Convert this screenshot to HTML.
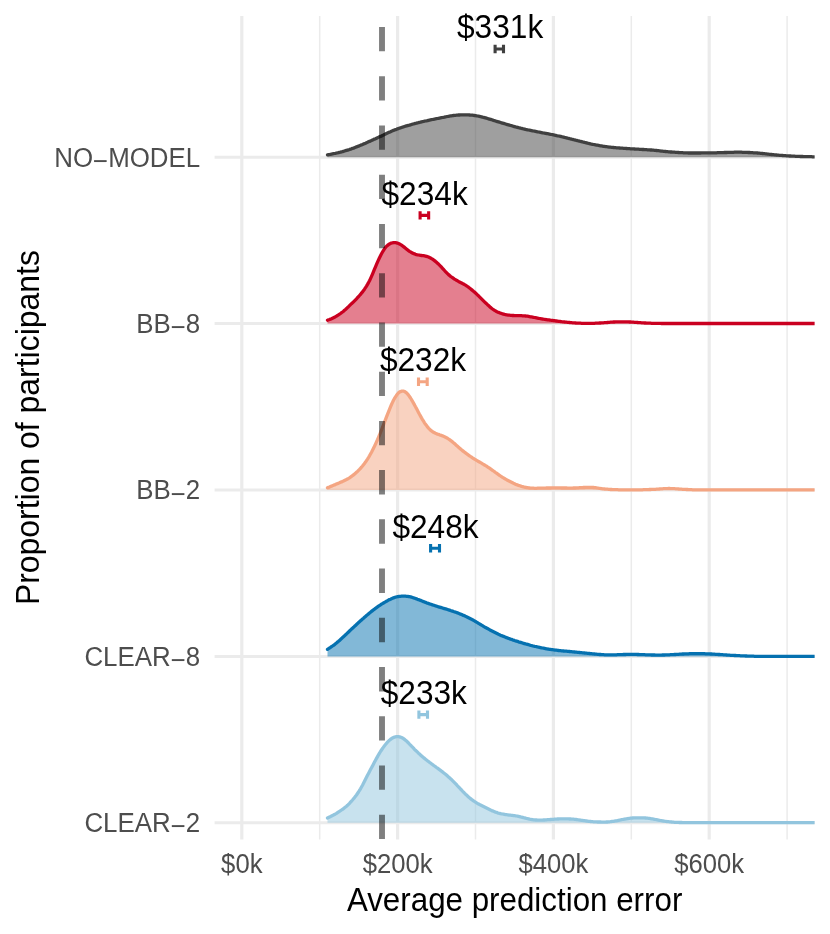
<!DOCTYPE html>
<html><head><meta charset="utf-8"><title>chart</title>
<style>
html,body{margin:0;padding:0;background:#fff;}
svg{display:block;}
text{font-family:"Liberation Sans",sans-serif;}
svg{will-change:transform;}
</style></head><body>
<svg width="830" height="934" viewBox="0 0 830 934">
<rect width="830" height="934" fill="#ffffff"/>

<g stroke="#ebebeb" fill="none">
<line x1="319.7" x2="319.7" y1="16.0" y2="839.5" stroke-width="1.5"/>
<line x1="475.5" x2="475.5" y1="16.0" y2="839.5" stroke-width="1.5"/>
<line x1="631.3" x2="631.3" y1="16.0" y2="839.5" stroke-width="1.5"/>
<line x1="787.1" x2="787.1" y1="16.0" y2="839.5" stroke-width="1.5"/>
<line x1="241.8" x2="241.8" y1="16.0" y2="839.5" stroke-width="3.2"/>
<line x1="397.6" x2="397.6" y1="16.0" y2="839.5" stroke-width="3.2"/>
<line x1="553.4" x2="553.4" y1="16.0" y2="839.5" stroke-width="3.2"/>
<line x1="709.2" x2="709.2" y1="16.0" y2="839.5" stroke-width="3.2"/>
<line x1="214.6" x2="814.6" y1="157.2" y2="157.2" stroke-width="3"/>
<line x1="214.6" x2="814.6" y1="323.6" y2="323.6" stroke-width="3"/>
<line x1="214.6" x2="814.6" y1="490.0" y2="490.0" stroke-width="3"/>
<line x1="214.6" x2="814.6" y1="656.4" y2="656.4" stroke-width="3"/>
<line x1="214.6" x2="814.6" y1="822.8" y2="822.8" stroke-width="3"/>
</g>
<clipPath id="pc"><rect x="214.6" y="16.0" width="600.0" height="823.5"/></clipPath>
<g clip-path="url(#pc)">
<path d="M327.5,154.9 L328.5,154.7 L329.5,154.5 L330.5,154.3 L331.5,154.1 L332.5,153.9 L333.5,153.7 L334.5,153.5 L335.5,153.3 L336.5,153.0 L337.5,152.8 L338.5,152.6 L339.5,152.3 L340.5,152.1 L341.5,151.8 L342.5,151.6 L343.5,151.3 L344.5,151.0 L345.5,150.7 L346.5,150.4 L347.5,150.1 L348.5,149.8 L349.5,149.5 L350.5,149.1 L351.5,148.8 L352.5,148.4 L353.5,148.1 L354.5,147.7 L355.5,147.3 L356.5,146.9 L357.5,146.5 L358.5,146.1 L359.5,145.7 L360.5,145.3 L361.5,144.9 L362.5,144.5 L363.5,144.0 L364.5,143.6 L365.5,143.2 L366.5,142.7 L367.5,142.3 L368.5,141.8 L369.5,141.4 L370.5,140.9 L371.5,140.5 L372.5,140.0 L373.5,139.6 L374.5,139.1 L375.5,138.7 L376.5,138.2 L377.5,137.7 L378.5,137.3 L379.5,136.8 L380.5,136.4 L381.5,135.9 L382.5,135.4 L383.5,135.0 L384.5,134.5 L385.5,134.0 L386.5,133.5 L387.5,133.0 L388.5,132.5 L389.5,132.1 L390.5,131.7 L391.5,131.2 L392.5,130.8 L393.5,130.4 L394.5,130.0 L395.5,129.6 L396.5,129.3 L397.5,128.9 L398.5,128.5 L399.5,128.2 L400.5,127.8 L401.5,127.5 L402.5,127.2 L403.5,126.8 L404.5,126.5 L405.5,126.2 L406.5,125.9 L407.5,125.6 L408.5,125.3 L409.5,125.1 L410.5,124.8 L411.5,124.5 L412.5,124.2 L413.5,124.0 L414.5,123.7 L415.5,123.4 L416.5,123.2 L417.5,122.9 L418.5,122.7 L419.5,122.4 L420.5,122.2 L421.5,121.9 L422.5,121.7 L423.5,121.5 L424.5,121.2 L425.5,121.0 L426.5,120.8 L427.5,120.6 L428.5,120.3 L429.5,120.1 L430.5,119.9 L431.5,119.7 L432.5,119.5 L433.5,119.3 L434.5,119.1 L435.5,118.9 L436.5,118.7 L437.5,118.5 L438.5,118.3 L439.5,118.1 L440.5,117.9 L441.5,117.7 L442.5,117.5 L443.5,117.3 L444.5,117.1 L445.5,116.8 L446.5,116.7 L447.5,116.5 L448.5,116.3 L449.5,116.1 L450.5,115.9 L451.5,115.8 L452.5,115.6 L453.5,115.5 L454.5,115.4 L455.5,115.3 L456.5,115.2 L457.5,115.1 L458.5,115.0 L459.5,115.0 L460.5,114.9 L461.5,114.9 L462.5,114.9 L463.5,114.8 L464.5,114.8 L465.5,114.8 L466.5,114.8 L467.5,114.9 L468.5,114.9 L469.5,115.0 L470.5,115.1 L471.5,115.1 L472.5,115.2 L473.5,115.4 L474.5,115.5 L475.5,115.6 L476.5,115.8 L477.5,116.0 L478.5,116.2 L479.5,116.4 L480.5,116.6 L481.5,116.8 L482.5,117.1 L483.5,117.3 L484.5,117.6 L485.5,117.9 L486.5,118.2 L487.5,118.5 L488.5,118.8 L489.5,119.1 L490.5,119.4 L491.5,119.7 L492.5,120.0 L493.5,120.4 L494.5,120.7 L495.5,121.0 L496.5,121.3 L497.5,121.6 L498.5,121.9 L499.5,122.2 L500.5,122.5 L501.5,122.8 L502.5,123.1 L503.5,123.4 L504.5,123.7 L505.5,124.0 L506.5,124.3 L507.5,124.6 L508.5,124.9 L509.5,125.2 L510.5,125.5 L511.5,125.7 L512.5,126.0 L513.5,126.3 L514.5,126.6 L515.5,126.9 L516.5,127.1 L517.5,127.4 L518.5,127.7 L519.5,127.9 L520.5,128.2 L521.5,128.4 L522.5,128.7 L523.5,128.9 L524.5,129.1 L525.5,129.4 L526.5,129.6 L527.5,129.8 L528.5,130.0 L529.5,130.2 L530.5,130.4 L531.5,130.6 L532.5,130.8 L533.5,131.0 L534.5,131.2 L535.5,131.4 L536.5,131.6 L537.5,131.8 L538.5,132.0 L539.5,132.2 L540.5,132.4 L541.5,132.6 L542.5,132.8 L543.5,133.0 L544.5,133.2 L545.5,133.4 L546.5,133.5 L547.5,133.7 L548.5,133.9 L549.5,134.1 L550.5,134.3 L551.5,134.5 L552.5,134.7 L553.5,134.9 L554.5,135.1 L555.5,135.3 L556.5,135.6 L557.5,135.8 L558.5,136.0 L559.5,136.2 L560.5,136.4 L561.5,136.7 L562.5,136.9 L563.5,137.1 L564.5,137.4 L565.5,137.6 L566.5,137.8 L567.5,138.1 L568.5,138.3 L569.5,138.6 L570.5,138.8 L571.5,139.1 L572.5,139.3 L573.5,139.6 L574.5,139.8 L575.5,140.1 L576.5,140.3 L577.5,140.6 L578.5,140.8 L579.5,141.1 L580.5,141.3 L581.5,141.6 L582.5,141.9 L583.5,142.1 L584.5,142.4 L585.5,142.6 L586.5,142.9 L587.5,143.2 L588.5,143.4 L589.5,143.6 L590.5,143.9 L591.5,144.1 L592.5,144.3 L593.5,144.5 L594.5,144.7 L595.5,144.9 L596.5,145.1 L597.5,145.2 L598.5,145.4 L599.5,145.6 L600.5,145.8 L601.5,145.9 L602.5,146.1 L603.5,146.3 L604.5,146.4 L605.5,146.6 L606.5,146.7 L607.5,146.8 L608.5,147.0 L609.5,147.1 L610.5,147.2 L611.5,147.3 L612.5,147.4 L613.5,147.5 L614.5,147.6 L615.5,147.7 L616.5,147.8 L617.5,147.9 L618.5,147.9 L619.5,148.0 L620.5,148.1 L621.5,148.2 L622.5,148.2 L623.5,148.3 L624.5,148.4 L625.5,148.4 L626.5,148.5 L627.5,148.6 L628.5,148.6 L629.5,148.7 L630.5,148.8 L631.5,148.8 L632.5,148.9 L633.5,148.9 L634.5,149.0 L635.5,149.1 L636.5,149.1 L637.5,149.2 L638.5,149.2 L639.5,149.3 L640.5,149.3 L641.5,149.4 L642.5,149.5 L643.5,149.5 L644.5,149.6 L645.5,149.6 L646.5,149.7 L647.5,149.8 L648.5,149.8 L649.5,149.9 L650.5,150.0 L651.5,150.0 L652.5,150.1 L653.5,150.2 L654.5,150.3 L655.5,150.4 L656.5,150.5 L657.5,150.6 L658.5,150.7 L659.5,150.8 L660.5,151.0 L661.5,151.1 L662.5,151.2 L663.5,151.3 L664.5,151.4 L665.5,151.5 L666.5,151.6 L667.5,151.7 L668.5,151.8 L669.5,151.9 L670.5,152.0 L671.5,152.0 L672.5,152.1 L673.5,152.2 L674.5,152.2 L675.5,152.3 L676.5,152.4 L677.5,152.4 L678.5,152.5 L679.5,152.6 L680.5,152.6 L681.5,152.7 L682.5,152.7 L683.5,152.8 L684.5,152.8 L685.5,152.9 L686.5,152.9 L687.5,152.9 L688.5,153.0 L689.5,153.0 L690.5,153.0 L691.5,153.0 L692.5,153.0 L693.5,153.0 L694.5,153.0 L695.5,153.0 L696.5,153.0 L697.5,153.0 L698.5,153.0 L699.5,153.0 L700.5,153.0 L701.5,152.9 L702.5,152.9 L703.5,152.9 L704.5,152.9 L705.5,152.9 L706.5,152.9 L707.5,152.9 L708.5,152.9 L709.5,152.9 L710.5,152.9 L711.5,152.8 L712.5,152.8 L713.5,152.8 L714.5,152.8 L715.5,152.8 L716.5,152.8 L717.5,152.7 L718.5,152.7 L719.5,152.7 L720.5,152.7 L721.5,152.6 L722.5,152.6 L723.5,152.6 L724.5,152.5 L725.5,152.5 L726.5,152.5 L727.5,152.4 L728.5,152.4 L729.5,152.4 L730.5,152.3 L731.5,152.3 L732.5,152.3 L733.5,152.3 L734.5,152.2 L735.5,152.2 L736.5,152.2 L737.5,152.2 L738.5,152.2 L739.5,152.2 L740.5,152.2 L741.5,152.2 L742.5,152.3 L743.5,152.3 L744.5,152.3 L745.5,152.4 L746.5,152.4 L747.5,152.4 L748.5,152.5 L749.5,152.5 L750.5,152.6 L751.5,152.6 L752.5,152.7 L753.5,152.8 L754.5,152.8 L755.5,152.9 L756.5,152.9 L757.5,153.0 L758.5,153.1 L759.5,153.2 L760.5,153.3 L761.5,153.4 L762.5,153.5 L763.5,153.6 L764.5,153.7 L765.5,153.8 L766.5,153.9 L767.5,154.1 L768.5,154.2 L769.5,154.3 L770.5,154.4 L771.5,154.5 L772.5,154.6 L773.5,154.7 L774.5,154.8 L775.5,154.9 L776.5,155.0 L777.5,155.1 L778.5,155.2 L779.5,155.3 L780.5,155.4 L781.5,155.4 L782.5,155.5 L783.5,155.6 L784.5,155.7 L785.5,155.7 L786.5,155.8 L787.5,155.9 L788.5,155.9 L789.5,156.0 L790.5,156.0 L791.5,156.1 L792.5,156.2 L793.5,156.2 L794.5,156.2 L795.5,156.3 L796.5,156.3 L797.5,156.4 L798.5,156.4 L799.5,156.4 L800.5,156.5 L801.5,156.5 L802.5,156.5 L803.5,156.6 L804.5,156.6 L805.5,156.6 L806.5,156.6 L807.5,156.7 L808.5,156.7 L809.5,156.7 L810.5,156.7 L811.5,156.7 L812.5,156.8 L813.5,156.8 L814.5,156.8 L815.5,156.8 L816.5,156.8 L817.5,156.8 L818.0,156.8 L818.0,157.2 L327.5,157.2 Z" fill="#404040" fill-opacity="0.5" stroke="none"/>
<path d="M327.5,154.9 L328.5,154.7 L329.5,154.5 L330.5,154.3 L331.5,154.1 L332.5,153.9 L333.5,153.7 L334.5,153.5 L335.5,153.3 L336.5,153.0 L337.5,152.8 L338.5,152.6 L339.5,152.3 L340.5,152.1 L341.5,151.8 L342.5,151.6 L343.5,151.3 L344.5,151.0 L345.5,150.7 L346.5,150.4 L347.5,150.1 L348.5,149.8 L349.5,149.5 L350.5,149.1 L351.5,148.8 L352.5,148.4 L353.5,148.1 L354.5,147.7 L355.5,147.3 L356.5,146.9 L357.5,146.5 L358.5,146.1 L359.5,145.7 L360.5,145.3 L361.5,144.9 L362.5,144.5 L363.5,144.0 L364.5,143.6 L365.5,143.2 L366.5,142.7 L367.5,142.3 L368.5,141.8 L369.5,141.4 L370.5,140.9 L371.5,140.5 L372.5,140.0 L373.5,139.6 L374.5,139.1 L375.5,138.7 L376.5,138.2 L377.5,137.7 L378.5,137.3 L379.5,136.8 L380.5,136.4 L381.5,135.9 L382.5,135.4 L383.5,135.0 L384.5,134.5 L385.5,134.0 L386.5,133.5 L387.5,133.0 L388.5,132.5 L389.5,132.1 L390.5,131.7 L391.5,131.2 L392.5,130.8 L393.5,130.4 L394.5,130.0 L395.5,129.6 L396.5,129.3 L397.5,128.9 L398.5,128.5 L399.5,128.2 L400.5,127.8 L401.5,127.5 L402.5,127.2 L403.5,126.8 L404.5,126.5 L405.5,126.2 L406.5,125.9 L407.5,125.6 L408.5,125.3 L409.5,125.1 L410.5,124.8 L411.5,124.5 L412.5,124.2 L413.5,124.0 L414.5,123.7 L415.5,123.4 L416.5,123.2 L417.5,122.9 L418.5,122.7 L419.5,122.4 L420.5,122.2 L421.5,121.9 L422.5,121.7 L423.5,121.5 L424.5,121.2 L425.5,121.0 L426.5,120.8 L427.5,120.6 L428.5,120.3 L429.5,120.1 L430.5,119.9 L431.5,119.7 L432.5,119.5 L433.5,119.3 L434.5,119.1 L435.5,118.9 L436.5,118.7 L437.5,118.5 L438.5,118.3 L439.5,118.1 L440.5,117.9 L441.5,117.7 L442.5,117.5 L443.5,117.3 L444.5,117.1 L445.5,116.8 L446.5,116.7 L447.5,116.5 L448.5,116.3 L449.5,116.1 L450.5,115.9 L451.5,115.8 L452.5,115.6 L453.5,115.5 L454.5,115.4 L455.5,115.3 L456.5,115.2 L457.5,115.1 L458.5,115.0 L459.5,115.0 L460.5,114.9 L461.5,114.9 L462.5,114.9 L463.5,114.8 L464.5,114.8 L465.5,114.8 L466.5,114.8 L467.5,114.9 L468.5,114.9 L469.5,115.0 L470.5,115.1 L471.5,115.1 L472.5,115.2 L473.5,115.4 L474.5,115.5 L475.5,115.6 L476.5,115.8 L477.5,116.0 L478.5,116.2 L479.5,116.4 L480.5,116.6 L481.5,116.8 L482.5,117.1 L483.5,117.3 L484.5,117.6 L485.5,117.9 L486.5,118.2 L487.5,118.5 L488.5,118.8 L489.5,119.1 L490.5,119.4 L491.5,119.7 L492.5,120.0 L493.5,120.4 L494.5,120.7 L495.5,121.0 L496.5,121.3 L497.5,121.6 L498.5,121.9 L499.5,122.2 L500.5,122.5 L501.5,122.8 L502.5,123.1 L503.5,123.4 L504.5,123.7 L505.5,124.0 L506.5,124.3 L507.5,124.6 L508.5,124.9 L509.5,125.2 L510.5,125.5 L511.5,125.7 L512.5,126.0 L513.5,126.3 L514.5,126.6 L515.5,126.9 L516.5,127.1 L517.5,127.4 L518.5,127.7 L519.5,127.9 L520.5,128.2 L521.5,128.4 L522.5,128.7 L523.5,128.9 L524.5,129.1 L525.5,129.4 L526.5,129.6 L527.5,129.8 L528.5,130.0 L529.5,130.2 L530.5,130.4 L531.5,130.6 L532.5,130.8 L533.5,131.0 L534.5,131.2 L535.5,131.4 L536.5,131.6 L537.5,131.8 L538.5,132.0 L539.5,132.2 L540.5,132.4 L541.5,132.6 L542.5,132.8 L543.5,133.0 L544.5,133.2 L545.5,133.4 L546.5,133.5 L547.5,133.7 L548.5,133.9 L549.5,134.1 L550.5,134.3 L551.5,134.5 L552.5,134.7 L553.5,134.9 L554.5,135.1 L555.5,135.3 L556.5,135.6 L557.5,135.8 L558.5,136.0 L559.5,136.2 L560.5,136.4 L561.5,136.7 L562.5,136.9 L563.5,137.1 L564.5,137.4 L565.5,137.6 L566.5,137.8 L567.5,138.1 L568.5,138.3 L569.5,138.6 L570.5,138.8 L571.5,139.1 L572.5,139.3 L573.5,139.6 L574.5,139.8 L575.5,140.1 L576.5,140.3 L577.5,140.6 L578.5,140.8 L579.5,141.1 L580.5,141.3 L581.5,141.6 L582.5,141.9 L583.5,142.1 L584.5,142.4 L585.5,142.6 L586.5,142.9 L587.5,143.2 L588.5,143.4 L589.5,143.6 L590.5,143.9 L591.5,144.1 L592.5,144.3 L593.5,144.5 L594.5,144.7 L595.5,144.9 L596.5,145.1 L597.5,145.2 L598.5,145.4 L599.5,145.6 L600.5,145.8 L601.5,145.9 L602.5,146.1 L603.5,146.3 L604.5,146.4 L605.5,146.6 L606.5,146.7 L607.5,146.8 L608.5,147.0 L609.5,147.1 L610.5,147.2 L611.5,147.3 L612.5,147.4 L613.5,147.5 L614.5,147.6 L615.5,147.7 L616.5,147.8 L617.5,147.9 L618.5,147.9 L619.5,148.0 L620.5,148.1 L621.5,148.2 L622.5,148.2 L623.5,148.3 L624.5,148.4 L625.5,148.4 L626.5,148.5 L627.5,148.6 L628.5,148.6 L629.5,148.7 L630.5,148.8 L631.5,148.8 L632.5,148.9 L633.5,148.9 L634.5,149.0 L635.5,149.1 L636.5,149.1 L637.5,149.2 L638.5,149.2 L639.5,149.3 L640.5,149.3 L641.5,149.4 L642.5,149.5 L643.5,149.5 L644.5,149.6 L645.5,149.6 L646.5,149.7 L647.5,149.8 L648.5,149.8 L649.5,149.9 L650.5,150.0 L651.5,150.0 L652.5,150.1 L653.5,150.2 L654.5,150.3 L655.5,150.4 L656.5,150.5 L657.5,150.6 L658.5,150.7 L659.5,150.8 L660.5,151.0 L661.5,151.1 L662.5,151.2 L663.5,151.3 L664.5,151.4 L665.5,151.5 L666.5,151.6 L667.5,151.7 L668.5,151.8 L669.5,151.9 L670.5,152.0 L671.5,152.0 L672.5,152.1 L673.5,152.2 L674.5,152.2 L675.5,152.3 L676.5,152.4 L677.5,152.4 L678.5,152.5 L679.5,152.6 L680.5,152.6 L681.5,152.7 L682.5,152.7 L683.5,152.8 L684.5,152.8 L685.5,152.9 L686.5,152.9 L687.5,152.9 L688.5,153.0 L689.5,153.0 L690.5,153.0 L691.5,153.0 L692.5,153.0 L693.5,153.0 L694.5,153.0 L695.5,153.0 L696.5,153.0 L697.5,153.0 L698.5,153.0 L699.5,153.0 L700.5,153.0 L701.5,152.9 L702.5,152.9 L703.5,152.9 L704.5,152.9 L705.5,152.9 L706.5,152.9 L707.5,152.9 L708.5,152.9 L709.5,152.9 L710.5,152.9 L711.5,152.8 L712.5,152.8 L713.5,152.8 L714.5,152.8 L715.5,152.8 L716.5,152.8 L717.5,152.7 L718.5,152.7 L719.5,152.7 L720.5,152.7 L721.5,152.6 L722.5,152.6 L723.5,152.6 L724.5,152.5 L725.5,152.5 L726.5,152.5 L727.5,152.4 L728.5,152.4 L729.5,152.4 L730.5,152.3 L731.5,152.3 L732.5,152.3 L733.5,152.3 L734.5,152.2 L735.5,152.2 L736.5,152.2 L737.5,152.2 L738.5,152.2 L739.5,152.2 L740.5,152.2 L741.5,152.2 L742.5,152.3 L743.5,152.3 L744.5,152.3 L745.5,152.4 L746.5,152.4 L747.5,152.4 L748.5,152.5 L749.5,152.5 L750.5,152.6 L751.5,152.6 L752.5,152.7 L753.5,152.8 L754.5,152.8 L755.5,152.9 L756.5,152.9 L757.5,153.0 L758.5,153.1 L759.5,153.2 L760.5,153.3 L761.5,153.4 L762.5,153.5 L763.5,153.6 L764.5,153.7 L765.5,153.8 L766.5,153.9 L767.5,154.1 L768.5,154.2 L769.5,154.3 L770.5,154.4 L771.5,154.5 L772.5,154.6 L773.5,154.7 L774.5,154.8 L775.5,154.9 L776.5,155.0 L777.5,155.1 L778.5,155.2 L779.5,155.3 L780.5,155.4 L781.5,155.4 L782.5,155.5 L783.5,155.6 L784.5,155.7 L785.5,155.7 L786.5,155.8 L787.5,155.9 L788.5,155.9 L789.5,156.0 L790.5,156.0 L791.5,156.1 L792.5,156.2 L793.5,156.2 L794.5,156.2 L795.5,156.3 L796.5,156.3 L797.5,156.4 L798.5,156.4 L799.5,156.4 L800.5,156.5 L801.5,156.5 L802.5,156.5 L803.5,156.6 L804.5,156.6 L805.5,156.6 L806.5,156.6 L807.5,156.7 L808.5,156.7 L809.5,156.7 L810.5,156.7 L811.5,156.7 L812.5,156.8 L813.5,156.8 L814.5,156.8 L815.5,156.8 L816.5,156.8 L817.5,156.8 L818.0,156.8" fill="none" stroke="#404040" stroke-width="3.3" stroke-linejoin="round" stroke-linecap="round"/>
<path d="M327.5,320.2 L328.5,319.8 L329.5,319.5 L330.5,319.1 L331.5,318.7 L332.5,318.2 L333.5,317.7 L334.5,317.2 L335.5,316.7 L336.5,316.1 L337.5,315.5 L338.5,314.8 L339.5,314.2 L340.5,313.5 L341.5,312.7 L342.5,312.0 L343.5,311.2 L344.5,310.3 L345.5,309.5 L346.5,308.6 L347.5,307.6 L348.5,306.7 L349.5,305.7 L350.5,304.7 L351.5,303.7 L352.5,302.8 L353.5,301.8 L354.5,300.8 L355.5,299.8 L356.5,298.8 L357.5,297.7 L358.5,296.6 L359.5,295.5 L360.5,294.4 L361.5,293.1 L362.5,291.9 L363.5,290.6 L364.5,289.2 L365.5,287.7 L366.5,286.1 L367.5,284.4 L368.5,282.6 L369.5,280.7 L370.5,278.6 L371.5,276.4 L372.5,274.1 L373.5,271.7 L374.5,269.2 L375.5,266.8 L376.5,264.4 L377.5,262.1 L378.5,259.9 L379.5,257.7 L380.5,255.7 L381.5,253.8 L382.5,252.0 L383.5,250.3 L384.5,248.8 L385.5,247.5 L386.5,246.3 L387.5,245.4 L388.5,244.6 L389.5,243.9 L390.5,243.4 L391.5,243.0 L392.5,242.8 L393.5,242.6 L394.5,242.6 L395.5,242.7 L396.5,242.9 L397.5,243.2 L398.5,243.5 L399.5,244.0 L400.5,244.5 L401.5,245.2 L402.5,245.9 L403.5,246.6 L404.5,247.4 L405.5,248.2 L406.5,249.1 L407.5,249.8 L408.5,250.6 L409.5,251.3 L410.5,251.9 L411.5,252.5 L412.5,253.1 L413.5,253.5 L414.5,253.9 L415.5,254.3 L416.5,254.6 L417.5,254.8 L418.5,255.0 L419.5,255.2 L420.5,255.4 L421.5,255.5 L422.5,255.6 L423.5,255.7 L424.5,255.9 L425.5,256.1 L426.5,256.4 L427.5,256.7 L428.5,257.0 L429.5,257.5 L430.5,258.0 L431.5,258.6 L432.5,259.2 L433.5,259.9 L434.5,260.6 L435.5,261.4 L436.5,262.3 L437.5,263.2 L438.5,264.1 L439.5,265.1 L440.5,266.1 L441.5,267.2 L442.5,268.3 L443.5,269.4 L444.5,270.5 L445.5,271.6 L446.5,272.6 L447.5,273.6 L448.5,274.6 L449.5,275.4 L450.5,276.3 L451.5,277.0 L452.5,277.7 L453.5,278.4 L454.5,279.1 L455.5,279.7 L456.5,280.3 L457.5,280.8 L458.5,281.4 L459.5,281.9 L460.5,282.4 L461.5,282.9 L462.5,283.5 L463.5,284.0 L464.5,284.6 L465.5,285.2 L466.5,285.8 L467.5,286.5 L468.5,287.2 L469.5,288.0 L470.5,288.8 L471.5,289.6 L472.5,290.4 L473.5,291.3 L474.5,292.1 L475.5,293.0 L476.5,293.9 L477.5,294.9 L478.5,295.8 L479.5,296.8 L480.5,297.8 L481.5,298.8 L482.5,299.8 L483.5,300.8 L484.5,301.8 L485.5,302.8 L486.5,303.7 L487.5,304.7 L488.5,305.6 L489.5,306.5 L490.5,307.4 L491.5,308.2 L492.5,309.0 L493.5,309.7 L494.5,310.3 L495.5,310.9 L496.5,311.5 L497.5,312.0 L498.5,312.4 L499.5,312.8 L500.5,313.2 L501.5,313.5 L502.5,313.8 L503.5,314.1 L504.5,314.4 L505.5,314.6 L506.5,314.8 L507.5,315.0 L508.5,315.1 L509.5,315.2 L510.5,315.3 L511.5,315.4 L512.5,315.5 L513.5,315.5 L514.5,315.6 L515.5,315.6 L516.5,315.6 L517.5,315.7 L518.5,315.7 L519.5,315.7 L520.5,315.7 L521.5,315.7 L522.5,315.8 L523.5,315.8 L524.5,315.9 L525.5,316.0 L526.5,316.1 L527.5,316.2 L528.5,316.4 L529.5,316.6 L530.5,316.8 L531.5,316.9 L532.5,317.1 L533.5,317.3 L534.5,317.5 L535.5,317.7 L536.5,317.9 L537.5,318.1 L538.5,318.3 L539.5,318.5 L540.5,318.7 L541.5,318.9 L542.5,319.0 L543.5,319.2 L544.5,319.3 L545.5,319.5 L546.5,319.6 L547.5,319.8 L548.5,319.9 L549.5,320.0 L550.5,320.2 L551.5,320.3 L552.5,320.4 L553.5,320.6 L554.5,320.7 L555.5,320.9 L556.5,321.0 L557.5,321.1 L558.5,321.3 L559.5,321.4 L560.5,321.5 L561.5,321.7 L562.5,321.8 L563.5,321.9 L564.5,322.0 L565.5,322.1 L566.5,322.2 L567.5,322.3 L568.5,322.4 L569.5,322.5 L570.5,322.6 L571.5,322.7 L572.5,322.8 L573.5,322.9 L574.5,322.9 L575.5,323.0 L576.5,323.1 L577.5,323.1 L578.5,323.2 L579.5,323.2 L580.5,323.2 L581.5,323.3 L582.5,323.3 L583.5,323.3 L584.5,323.4 L585.5,323.4 L586.5,323.4 L587.5,323.4 L588.5,323.4 L589.5,323.4 L590.5,323.4 L591.5,323.3 L592.5,323.3 L593.5,323.3 L594.5,323.3 L595.5,323.2 L596.5,323.2 L597.5,323.1 L598.5,323.1 L599.5,323.0 L600.5,323.0 L601.5,322.9 L602.5,322.8 L603.5,322.8 L604.5,322.7 L605.5,322.6 L606.5,322.6 L607.5,322.5 L608.5,322.4 L609.5,322.3 L610.5,322.2 L611.5,322.2 L612.5,322.1 L613.5,322.0 L614.5,322.0 L615.5,321.9 L616.5,321.9 L617.5,321.9 L618.5,321.9 L619.5,321.8 L620.5,321.8 L621.5,321.8 L622.5,321.8 L623.5,321.8 L624.5,321.8 L625.5,321.8 L626.5,321.8 L627.5,321.9 L628.5,321.9 L629.5,322.0 L630.5,322.0 L631.5,322.1 L632.5,322.1 L633.5,322.2 L634.5,322.3 L635.5,322.3 L636.5,322.4 L637.5,322.5 L638.5,322.6 L639.5,322.6 L640.5,322.7 L641.5,322.8 L642.5,322.9 L643.5,322.9 L644.5,323.0 L645.5,323.0 L646.5,323.1 L647.5,323.1 L648.5,323.2 L649.5,323.2 L650.5,323.2 L651.5,323.3 L652.5,323.3 L653.5,323.3 L654.5,323.4 L655.5,323.4 L656.5,323.4 L657.5,323.4 L658.5,323.4 L659.5,323.4 L660.5,323.4 L661.5,323.5 L662.5,323.5 L663.5,323.5 L664.5,323.5 L665.5,323.5 L666.5,323.5 L667.5,323.5 L668.5,323.5 L669.5,323.5 L670.5,323.5 L671.5,323.5 L672.5,323.5 L673.5,323.5 L674.5,323.5 L675.5,323.5 L676.5,323.5 L677.5,323.5 L678.5,323.5 L679.5,323.5 L680.5,323.5 L681.5,323.5 L682.5,323.5 L683.5,323.5 L684.5,323.5 L685.5,323.5 L686.5,323.5 L687.5,323.5 L688.5,323.5 L689.5,323.5 L690.5,323.5 L691.5,323.5 L692.5,323.5 L693.5,323.5 L694.5,323.5 L695.5,323.5 L696.5,323.5 L697.5,323.5 L698.5,323.5 L699.5,323.5 L700.5,323.5 L701.5,323.5 L702.5,323.5 L703.5,323.5 L704.5,323.5 L705.5,323.5 L706.5,323.5 L707.5,323.5 L708.5,323.5 L709.5,323.5 L710.5,323.5 L711.5,323.5 L712.5,323.5 L713.5,323.5 L714.5,323.5 L715.5,323.5 L716.5,323.5 L717.5,323.5 L718.5,323.5 L719.5,323.5 L720.5,323.5 L721.5,323.5 L722.5,323.5 L723.5,323.5 L724.5,323.5 L725.5,323.5 L726.5,323.5 L727.5,323.5 L728.5,323.5 L729.5,323.5 L730.5,323.5 L731.5,323.5 L732.5,323.5 L733.5,323.5 L734.5,323.5 L735.5,323.5 L736.5,323.5 L737.5,323.5 L738.5,323.5 L739.5,323.5 L740.5,323.5 L741.5,323.5 L742.5,323.5 L743.5,323.5 L744.5,323.5 L745.5,323.5 L746.5,323.5 L747.5,323.5 L748.5,323.5 L749.5,323.5 L750.5,323.5 L751.5,323.5 L752.5,323.5 L753.5,323.5 L754.5,323.5 L755.5,323.5 L756.5,323.5 L757.5,323.5 L758.5,323.5 L759.5,323.5 L760.5,323.5 L761.5,323.5 L762.5,323.5 L763.5,323.5 L764.5,323.5 L765.5,323.5 L766.5,323.5 L767.5,323.5 L768.5,323.5 L769.5,323.5 L770.5,323.5 L771.5,323.5 L772.5,323.5 L773.5,323.5 L774.5,323.5 L775.5,323.5 L776.5,323.5 L777.5,323.5 L778.5,323.5 L779.5,323.5 L780.5,323.5 L781.5,323.5 L782.5,323.5 L783.5,323.5 L784.5,323.5 L785.5,323.5 L786.5,323.5 L787.5,323.5 L788.5,323.5 L789.5,323.5 L790.5,323.5 L791.5,323.5 L792.5,323.5 L793.5,323.5 L794.5,323.5 L795.5,323.5 L796.5,323.5 L797.5,323.5 L798.5,323.5 L799.5,323.5 L800.5,323.5 L801.5,323.5 L802.5,323.5 L803.5,323.5 L804.5,323.5 L805.5,323.5 L806.5,323.5 L807.5,323.5 L808.5,323.5 L809.5,323.5 L810.5,323.5 L811.5,323.5 L812.5,323.5 L813.5,323.5 L814.5,323.5 L815.5,323.5 L816.5,323.5 L817.5,323.5 L818.0,323.5 L818.0,323.6 L327.5,323.6 Z" fill="#ca0020" fill-opacity="0.5" stroke="none"/>
<path d="M327.5,320.2 L328.5,319.8 L329.5,319.5 L330.5,319.1 L331.5,318.7 L332.5,318.2 L333.5,317.7 L334.5,317.2 L335.5,316.7 L336.5,316.1 L337.5,315.5 L338.5,314.8 L339.5,314.2 L340.5,313.5 L341.5,312.7 L342.5,312.0 L343.5,311.2 L344.5,310.3 L345.5,309.5 L346.5,308.6 L347.5,307.6 L348.5,306.7 L349.5,305.7 L350.5,304.7 L351.5,303.7 L352.5,302.8 L353.5,301.8 L354.5,300.8 L355.5,299.8 L356.5,298.8 L357.5,297.7 L358.5,296.6 L359.5,295.5 L360.5,294.4 L361.5,293.1 L362.5,291.9 L363.5,290.6 L364.5,289.2 L365.5,287.7 L366.5,286.1 L367.5,284.4 L368.5,282.6 L369.5,280.7 L370.5,278.6 L371.5,276.4 L372.5,274.1 L373.5,271.7 L374.5,269.2 L375.5,266.8 L376.5,264.4 L377.5,262.1 L378.5,259.9 L379.5,257.7 L380.5,255.7 L381.5,253.8 L382.5,252.0 L383.5,250.3 L384.5,248.8 L385.5,247.5 L386.5,246.3 L387.5,245.4 L388.5,244.6 L389.5,243.9 L390.5,243.4 L391.5,243.0 L392.5,242.8 L393.5,242.6 L394.5,242.6 L395.5,242.7 L396.5,242.9 L397.5,243.2 L398.5,243.5 L399.5,244.0 L400.5,244.5 L401.5,245.2 L402.5,245.9 L403.5,246.6 L404.5,247.4 L405.5,248.2 L406.5,249.1 L407.5,249.8 L408.5,250.6 L409.5,251.3 L410.5,251.9 L411.5,252.5 L412.5,253.1 L413.5,253.5 L414.5,253.9 L415.5,254.3 L416.5,254.6 L417.5,254.8 L418.5,255.0 L419.5,255.2 L420.5,255.4 L421.5,255.5 L422.5,255.6 L423.5,255.7 L424.5,255.9 L425.5,256.1 L426.5,256.4 L427.5,256.7 L428.5,257.0 L429.5,257.5 L430.5,258.0 L431.5,258.6 L432.5,259.2 L433.5,259.9 L434.5,260.6 L435.5,261.4 L436.5,262.3 L437.5,263.2 L438.5,264.1 L439.5,265.1 L440.5,266.1 L441.5,267.2 L442.5,268.3 L443.5,269.4 L444.5,270.5 L445.5,271.6 L446.5,272.6 L447.5,273.6 L448.5,274.6 L449.5,275.4 L450.5,276.3 L451.5,277.0 L452.5,277.7 L453.5,278.4 L454.5,279.1 L455.5,279.7 L456.5,280.3 L457.5,280.8 L458.5,281.4 L459.5,281.9 L460.5,282.4 L461.5,282.9 L462.5,283.5 L463.5,284.0 L464.5,284.6 L465.5,285.2 L466.5,285.8 L467.5,286.5 L468.5,287.2 L469.5,288.0 L470.5,288.8 L471.5,289.6 L472.5,290.4 L473.5,291.3 L474.5,292.1 L475.5,293.0 L476.5,293.9 L477.5,294.9 L478.5,295.8 L479.5,296.8 L480.5,297.8 L481.5,298.8 L482.5,299.8 L483.5,300.8 L484.5,301.8 L485.5,302.8 L486.5,303.7 L487.5,304.7 L488.5,305.6 L489.5,306.5 L490.5,307.4 L491.5,308.2 L492.5,309.0 L493.5,309.7 L494.5,310.3 L495.5,310.9 L496.5,311.5 L497.5,312.0 L498.5,312.4 L499.5,312.8 L500.5,313.2 L501.5,313.5 L502.5,313.8 L503.5,314.1 L504.5,314.4 L505.5,314.6 L506.5,314.8 L507.5,315.0 L508.5,315.1 L509.5,315.2 L510.5,315.3 L511.5,315.4 L512.5,315.5 L513.5,315.5 L514.5,315.6 L515.5,315.6 L516.5,315.6 L517.5,315.7 L518.5,315.7 L519.5,315.7 L520.5,315.7 L521.5,315.7 L522.5,315.8 L523.5,315.8 L524.5,315.9 L525.5,316.0 L526.5,316.1 L527.5,316.2 L528.5,316.4 L529.5,316.6 L530.5,316.8 L531.5,316.9 L532.5,317.1 L533.5,317.3 L534.5,317.5 L535.5,317.7 L536.5,317.9 L537.5,318.1 L538.5,318.3 L539.5,318.5 L540.5,318.7 L541.5,318.9 L542.5,319.0 L543.5,319.2 L544.5,319.3 L545.5,319.5 L546.5,319.6 L547.5,319.8 L548.5,319.9 L549.5,320.0 L550.5,320.2 L551.5,320.3 L552.5,320.4 L553.5,320.6 L554.5,320.7 L555.5,320.9 L556.5,321.0 L557.5,321.1 L558.5,321.3 L559.5,321.4 L560.5,321.5 L561.5,321.7 L562.5,321.8 L563.5,321.9 L564.5,322.0 L565.5,322.1 L566.5,322.2 L567.5,322.3 L568.5,322.4 L569.5,322.5 L570.5,322.6 L571.5,322.7 L572.5,322.8 L573.5,322.9 L574.5,322.9 L575.5,323.0 L576.5,323.1 L577.5,323.1 L578.5,323.2 L579.5,323.2 L580.5,323.2 L581.5,323.3 L582.5,323.3 L583.5,323.3 L584.5,323.4 L585.5,323.4 L586.5,323.4 L587.5,323.4 L588.5,323.4 L589.5,323.4 L590.5,323.4 L591.5,323.3 L592.5,323.3 L593.5,323.3 L594.5,323.3 L595.5,323.2 L596.5,323.2 L597.5,323.1 L598.5,323.1 L599.5,323.0 L600.5,323.0 L601.5,322.9 L602.5,322.8 L603.5,322.8 L604.5,322.7 L605.5,322.6 L606.5,322.6 L607.5,322.5 L608.5,322.4 L609.5,322.3 L610.5,322.2 L611.5,322.2 L612.5,322.1 L613.5,322.0 L614.5,322.0 L615.5,321.9 L616.5,321.9 L617.5,321.9 L618.5,321.9 L619.5,321.8 L620.5,321.8 L621.5,321.8 L622.5,321.8 L623.5,321.8 L624.5,321.8 L625.5,321.8 L626.5,321.8 L627.5,321.9 L628.5,321.9 L629.5,322.0 L630.5,322.0 L631.5,322.1 L632.5,322.1 L633.5,322.2 L634.5,322.3 L635.5,322.3 L636.5,322.4 L637.5,322.5 L638.5,322.6 L639.5,322.6 L640.5,322.7 L641.5,322.8 L642.5,322.9 L643.5,322.9 L644.5,323.0 L645.5,323.0 L646.5,323.1 L647.5,323.1 L648.5,323.2 L649.5,323.2 L650.5,323.2 L651.5,323.3 L652.5,323.3 L653.5,323.3 L654.5,323.4 L655.5,323.4 L656.5,323.4 L657.5,323.4 L658.5,323.4 L659.5,323.4 L660.5,323.4 L661.5,323.5 L662.5,323.5 L663.5,323.5 L664.5,323.5 L665.5,323.5 L666.5,323.5 L667.5,323.5 L668.5,323.5 L669.5,323.5 L670.5,323.5 L671.5,323.5 L672.5,323.5 L673.5,323.5 L674.5,323.5 L675.5,323.5 L676.5,323.5 L677.5,323.5 L678.5,323.5 L679.5,323.5 L680.5,323.5 L681.5,323.5 L682.5,323.5 L683.5,323.5 L684.5,323.5 L685.5,323.5 L686.5,323.5 L687.5,323.5 L688.5,323.5 L689.5,323.5 L690.5,323.5 L691.5,323.5 L692.5,323.5 L693.5,323.5 L694.5,323.5 L695.5,323.5 L696.5,323.5 L697.5,323.5 L698.5,323.5 L699.5,323.5 L700.5,323.5 L701.5,323.5 L702.5,323.5 L703.5,323.5 L704.5,323.5 L705.5,323.5 L706.5,323.5 L707.5,323.5 L708.5,323.5 L709.5,323.5 L710.5,323.5 L711.5,323.5 L712.5,323.5 L713.5,323.5 L714.5,323.5 L715.5,323.5 L716.5,323.5 L717.5,323.5 L718.5,323.5 L719.5,323.5 L720.5,323.5 L721.5,323.5 L722.5,323.5 L723.5,323.5 L724.5,323.5 L725.5,323.5 L726.5,323.5 L727.5,323.5 L728.5,323.5 L729.5,323.5 L730.5,323.5 L731.5,323.5 L732.5,323.5 L733.5,323.5 L734.5,323.5 L735.5,323.5 L736.5,323.5 L737.5,323.5 L738.5,323.5 L739.5,323.5 L740.5,323.5 L741.5,323.5 L742.5,323.5 L743.5,323.5 L744.5,323.5 L745.5,323.5 L746.5,323.5 L747.5,323.5 L748.5,323.5 L749.5,323.5 L750.5,323.5 L751.5,323.5 L752.5,323.5 L753.5,323.5 L754.5,323.5 L755.5,323.5 L756.5,323.5 L757.5,323.5 L758.5,323.5 L759.5,323.5 L760.5,323.5 L761.5,323.5 L762.5,323.5 L763.5,323.5 L764.5,323.5 L765.5,323.5 L766.5,323.5 L767.5,323.5 L768.5,323.5 L769.5,323.5 L770.5,323.5 L771.5,323.5 L772.5,323.5 L773.5,323.5 L774.5,323.5 L775.5,323.5 L776.5,323.5 L777.5,323.5 L778.5,323.5 L779.5,323.5 L780.5,323.5 L781.5,323.5 L782.5,323.5 L783.5,323.5 L784.5,323.5 L785.5,323.5 L786.5,323.5 L787.5,323.5 L788.5,323.5 L789.5,323.5 L790.5,323.5 L791.5,323.5 L792.5,323.5 L793.5,323.5 L794.5,323.5 L795.5,323.5 L796.5,323.5 L797.5,323.5 L798.5,323.5 L799.5,323.5 L800.5,323.5 L801.5,323.5 L802.5,323.5 L803.5,323.5 L804.5,323.5 L805.5,323.5 L806.5,323.5 L807.5,323.5 L808.5,323.5 L809.5,323.5 L810.5,323.5 L811.5,323.5 L812.5,323.5 L813.5,323.5 L814.5,323.5 L815.5,323.5 L816.5,323.5 L817.5,323.5 L818.0,323.5" fill="none" stroke="#ca0020" stroke-width="3.3" stroke-linejoin="round" stroke-linecap="round"/>
<path d="M327.5,487.8 L328.5,487.4 L329.5,487.0 L330.5,486.5 L331.5,486.1 L332.5,485.7 L333.5,485.3 L334.5,484.9 L335.5,484.4 L336.5,484.0 L337.5,483.6 L338.5,483.2 L339.5,482.8 L340.5,482.3 L341.5,481.9 L342.5,481.4 L343.5,481.0 L344.5,480.5 L345.5,480.0 L346.5,479.5 L347.5,478.9 L348.5,478.4 L349.5,477.8 L350.5,477.1 L351.5,476.4 L352.5,475.7 L353.5,474.9 L354.5,474.1 L355.5,473.2 L356.5,472.3 L357.5,471.4 L358.5,470.4 L359.5,469.4 L360.5,468.3 L361.5,467.2 L362.5,466.0 L363.5,464.7 L364.5,463.4 L365.5,462.1 L366.5,460.6 L367.5,459.1 L368.5,457.5 L369.5,455.8 L370.5,454.0 L371.5,452.2 L372.5,450.3 L373.5,448.3 L374.5,446.3 L375.5,444.1 L376.5,441.9 L377.5,439.7 L378.5,437.3 L379.5,435.0 L380.5,432.5 L381.5,430.0 L382.5,427.4 L383.5,424.8 L384.5,422.2 L385.5,419.6 L386.5,416.9 L387.5,414.3 L388.5,411.8 L389.5,409.3 L390.5,406.8 L391.5,404.5 L392.5,402.4 L393.5,400.3 L394.5,398.4 L395.5,396.8 L396.5,395.3 L397.5,394.0 L398.5,392.9 L399.5,392.1 L400.5,391.6 L401.5,391.2 L402.5,391.1 L403.5,391.2 L404.5,391.5 L405.5,392.1 L406.5,392.9 L407.5,393.9 L408.5,395.1 L409.5,396.5 L410.5,398.0 L411.5,399.6 L412.5,401.3 L413.5,403.1 L414.5,404.9 L415.5,406.8 L416.5,408.6 L417.5,410.5 L418.5,412.4 L419.5,414.3 L420.5,416.1 L421.5,417.9 L422.5,419.6 L423.5,421.2 L424.5,422.8 L425.5,424.3 L426.5,425.6 L427.5,426.9 L428.5,428.1 L429.5,429.1 L430.5,430.1 L431.5,430.9 L432.5,431.6 L433.5,432.3 L434.5,432.8 L435.5,433.3 L436.5,433.7 L437.5,434.1 L438.5,434.4 L439.5,434.8 L440.5,435.1 L441.5,435.5 L442.5,435.9 L443.5,436.3 L444.5,436.7 L445.5,437.2 L446.5,437.8 L447.5,438.3 L448.5,439.0 L449.5,439.7 L450.5,440.4 L451.5,441.1 L452.5,441.9 L453.5,442.8 L454.5,443.6 L455.5,444.5 L456.5,445.4 L457.5,446.3 L458.5,447.2 L459.5,448.1 L460.5,448.9 L461.5,449.8 L462.5,450.6 L463.5,451.4 L464.5,452.2 L465.5,452.9 L466.5,453.7 L467.5,454.4 L468.5,455.1 L469.5,455.8 L470.5,456.5 L471.5,457.2 L472.5,457.9 L473.5,458.5 L474.5,459.1 L475.5,459.7 L476.5,460.3 L477.5,460.9 L478.5,461.5 L479.5,462.1 L480.5,462.6 L481.5,463.2 L482.5,463.8 L483.5,464.4 L484.5,465.0 L485.5,465.6 L486.5,466.2 L487.5,466.9 L488.5,467.5 L489.5,468.2 L490.5,468.9 L491.5,469.6 L492.5,470.3 L493.5,471.0 L494.5,471.7 L495.5,472.5 L496.5,473.2 L497.5,473.9 L498.5,474.6 L499.5,475.3 L500.5,476.0 L501.5,476.7 L502.5,477.3 L503.5,477.9 L504.5,478.5 L505.5,479.1 L506.5,479.7 L507.5,480.3 L508.5,480.8 L509.5,481.3 L510.5,481.8 L511.5,482.3 L512.5,482.8 L513.5,483.3 L514.5,483.7 L515.5,484.2 L516.5,484.6 L517.5,485.0 L518.5,485.4 L519.5,485.7 L520.5,486.0 L521.5,486.4 L522.5,486.6 L523.5,486.9 L524.5,487.1 L525.5,487.4 L526.5,487.5 L527.5,487.7 L528.5,487.9 L529.5,488.0 L530.5,488.1 L531.5,488.1 L532.5,488.2 L533.5,488.2 L534.5,488.3 L535.5,488.3 L536.5,488.3 L537.5,488.2 L538.5,488.2 L539.5,488.2 L540.5,488.2 L541.5,488.2 L542.5,488.1 L543.5,488.1 L544.5,488.1 L545.5,488.1 L546.5,488.0 L547.5,488.0 L548.5,488.0 L549.5,488.0 L550.5,488.0 L551.5,487.9 L552.5,487.9 L553.5,487.9 L554.5,487.9 L555.5,487.9 L556.5,487.9 L557.5,487.9 L558.5,487.9 L559.5,487.9 L560.5,487.9 L561.5,488.0 L562.5,488.0 L563.5,488.0 L564.5,488.0 L565.5,488.0 L566.5,488.0 L567.5,488.1 L568.5,488.1 L569.5,488.1 L570.5,488.1 L571.5,488.1 L572.5,488.1 L573.5,488.0 L574.5,488.0 L575.5,488.0 L576.5,487.9 L577.5,487.8 L578.5,487.8 L579.5,487.7 L580.5,487.7 L581.5,487.6 L582.5,487.6 L583.5,487.5 L584.5,487.5 L585.5,487.4 L586.5,487.4 L587.5,487.4 L588.5,487.4 L589.5,487.3 L590.5,487.3 L591.5,487.4 L592.5,487.4 L593.5,487.5 L594.5,487.6 L595.5,487.7 L596.5,487.8 L597.5,488.0 L598.5,488.2 L599.5,488.3 L600.5,488.5 L601.5,488.6 L602.5,488.8 L603.5,488.9 L604.5,489.0 L605.5,489.1 L606.5,489.2 L607.5,489.2 L608.5,489.3 L609.5,489.4 L610.5,489.5 L611.5,489.5 L612.5,489.6 L613.5,489.6 L614.5,489.7 L615.5,489.7 L616.5,489.7 L617.5,489.7 L618.5,489.8 L619.5,489.8 L620.5,489.8 L621.5,489.8 L622.5,489.8 L623.5,489.8 L624.5,489.8 L625.5,489.8 L626.5,489.9 L627.5,489.9 L628.5,489.9 L629.5,489.9 L630.5,489.9 L631.5,489.9 L632.5,489.9 L633.5,489.9 L634.5,489.9 L635.5,489.9 L636.5,489.9 L637.5,489.9 L638.5,489.9 L639.5,489.8 L640.5,489.8 L641.5,489.8 L642.5,489.8 L643.5,489.7 L644.5,489.7 L645.5,489.7 L646.5,489.6 L647.5,489.6 L648.5,489.6 L649.5,489.5 L650.5,489.5 L651.5,489.4 L652.5,489.4 L653.5,489.4 L654.5,489.3 L655.5,489.3 L656.5,489.2 L657.5,489.2 L658.5,489.1 L659.5,489.0 L660.5,488.9 L661.5,488.9 L662.5,488.8 L663.5,488.7 L664.5,488.7 L665.5,488.6 L666.5,488.6 L667.5,488.6 L668.5,488.5 L669.5,488.5 L670.5,488.6 L671.5,488.6 L672.5,488.6 L673.5,488.7 L674.5,488.7 L675.5,488.8 L676.5,488.9 L677.5,488.9 L678.5,489.0 L679.5,489.1 L680.5,489.1 L681.5,489.2 L682.5,489.3 L683.5,489.3 L684.5,489.4 L685.5,489.4 L686.5,489.5 L687.5,489.5 L688.5,489.6 L689.5,489.6 L690.5,489.7 L691.5,489.7 L692.5,489.8 L693.5,489.8 L694.5,489.8 L695.5,489.8 L696.5,489.9 L697.5,489.9 L698.5,489.9 L699.5,489.9 L700.5,489.9 L701.5,489.9 L702.5,489.9 L703.5,489.9 L704.5,489.9 L705.5,489.9 L706.5,489.9 L707.5,489.9 L708.5,489.9 L709.5,489.9 L710.5,489.9 L711.5,489.9 L712.5,489.9 L713.5,489.9 L714.5,489.9 L715.5,489.9 L716.5,489.9 L717.5,489.9 L718.5,489.9 L719.5,489.9 L720.5,489.9 L721.5,489.9 L722.5,489.9 L723.5,489.9 L724.5,489.9 L725.5,489.9 L726.5,489.9 L727.5,489.9 L728.5,489.9 L729.5,489.9 L730.5,489.9 L731.5,489.9 L732.5,489.9 L733.5,489.9 L734.5,489.9 L735.5,489.9 L736.5,489.9 L737.5,489.9 L738.5,489.9 L739.5,489.9 L740.5,489.9 L741.5,489.9 L742.5,489.9 L743.5,489.9 L744.5,489.9 L745.5,489.9 L746.5,489.9 L747.5,489.9 L748.5,489.9 L749.5,489.9 L750.5,489.9 L751.5,489.9 L752.5,489.9 L753.5,489.9 L754.5,489.9 L755.5,489.9 L756.5,489.9 L757.5,489.9 L758.5,489.9 L759.5,489.9 L760.5,489.9 L761.5,489.9 L762.5,489.9 L763.5,489.9 L764.5,489.9 L765.5,489.9 L766.5,489.9 L767.5,489.9 L768.5,489.9 L769.5,489.9 L770.5,489.9 L771.5,489.9 L772.5,489.9 L773.5,489.9 L774.5,489.9 L775.5,489.9 L776.5,489.9 L777.5,489.9 L778.5,489.9 L779.5,489.9 L780.5,489.9 L781.5,489.9 L782.5,489.9 L783.5,489.9 L784.5,489.9 L785.5,489.9 L786.5,489.9 L787.5,489.9 L788.5,489.9 L789.5,489.9 L790.5,489.9 L791.5,489.9 L792.5,489.9 L793.5,489.9 L794.5,489.9 L795.5,489.9 L796.5,489.9 L797.5,489.9 L798.5,489.9 L799.5,489.9 L800.5,489.9 L801.5,489.9 L802.5,489.9 L803.5,489.9 L804.5,489.9 L805.5,489.9 L806.5,489.9 L807.5,489.9 L808.5,489.9 L809.5,489.9 L810.5,489.9 L811.5,489.9 L812.5,489.9 L813.5,489.9 L814.5,489.9 L815.5,489.9 L816.5,489.9 L817.5,489.9 L818.0,489.9 L818.0,490.0 L327.5,490.0 Z" fill="#f4a582" fill-opacity="0.5" stroke="none"/>
<path d="M327.5,487.8 L328.5,487.4 L329.5,487.0 L330.5,486.5 L331.5,486.1 L332.5,485.7 L333.5,485.3 L334.5,484.9 L335.5,484.4 L336.5,484.0 L337.5,483.6 L338.5,483.2 L339.5,482.8 L340.5,482.3 L341.5,481.9 L342.5,481.4 L343.5,481.0 L344.5,480.5 L345.5,480.0 L346.5,479.5 L347.5,478.9 L348.5,478.4 L349.5,477.8 L350.5,477.1 L351.5,476.4 L352.5,475.7 L353.5,474.9 L354.5,474.1 L355.5,473.2 L356.5,472.3 L357.5,471.4 L358.5,470.4 L359.5,469.4 L360.5,468.3 L361.5,467.2 L362.5,466.0 L363.5,464.7 L364.5,463.4 L365.5,462.1 L366.5,460.6 L367.5,459.1 L368.5,457.5 L369.5,455.8 L370.5,454.0 L371.5,452.2 L372.5,450.3 L373.5,448.3 L374.5,446.3 L375.5,444.1 L376.5,441.9 L377.5,439.7 L378.5,437.3 L379.5,435.0 L380.5,432.5 L381.5,430.0 L382.5,427.4 L383.5,424.8 L384.5,422.2 L385.5,419.6 L386.5,416.9 L387.5,414.3 L388.5,411.8 L389.5,409.3 L390.5,406.8 L391.5,404.5 L392.5,402.4 L393.5,400.3 L394.5,398.4 L395.5,396.8 L396.5,395.3 L397.5,394.0 L398.5,392.9 L399.5,392.1 L400.5,391.6 L401.5,391.2 L402.5,391.1 L403.5,391.2 L404.5,391.5 L405.5,392.1 L406.5,392.9 L407.5,393.9 L408.5,395.1 L409.5,396.5 L410.5,398.0 L411.5,399.6 L412.5,401.3 L413.5,403.1 L414.5,404.9 L415.5,406.8 L416.5,408.6 L417.5,410.5 L418.5,412.4 L419.5,414.3 L420.5,416.1 L421.5,417.9 L422.5,419.6 L423.5,421.2 L424.5,422.8 L425.5,424.3 L426.5,425.6 L427.5,426.9 L428.5,428.1 L429.5,429.1 L430.5,430.1 L431.5,430.9 L432.5,431.6 L433.5,432.3 L434.5,432.8 L435.5,433.3 L436.5,433.7 L437.5,434.1 L438.5,434.4 L439.5,434.8 L440.5,435.1 L441.5,435.5 L442.5,435.9 L443.5,436.3 L444.5,436.7 L445.5,437.2 L446.5,437.8 L447.5,438.3 L448.5,439.0 L449.5,439.7 L450.5,440.4 L451.5,441.1 L452.5,441.9 L453.5,442.8 L454.5,443.6 L455.5,444.5 L456.5,445.4 L457.5,446.3 L458.5,447.2 L459.5,448.1 L460.5,448.9 L461.5,449.8 L462.5,450.6 L463.5,451.4 L464.5,452.2 L465.5,452.9 L466.5,453.7 L467.5,454.4 L468.5,455.1 L469.5,455.8 L470.5,456.5 L471.5,457.2 L472.5,457.9 L473.5,458.5 L474.5,459.1 L475.5,459.7 L476.5,460.3 L477.5,460.9 L478.5,461.5 L479.5,462.1 L480.5,462.6 L481.5,463.2 L482.5,463.8 L483.5,464.4 L484.5,465.0 L485.5,465.6 L486.5,466.2 L487.5,466.9 L488.5,467.5 L489.5,468.2 L490.5,468.9 L491.5,469.6 L492.5,470.3 L493.5,471.0 L494.5,471.7 L495.5,472.5 L496.5,473.2 L497.5,473.9 L498.5,474.6 L499.5,475.3 L500.5,476.0 L501.5,476.7 L502.5,477.3 L503.5,477.9 L504.5,478.5 L505.5,479.1 L506.5,479.7 L507.5,480.3 L508.5,480.8 L509.5,481.3 L510.5,481.8 L511.5,482.3 L512.5,482.8 L513.5,483.3 L514.5,483.7 L515.5,484.2 L516.5,484.6 L517.5,485.0 L518.5,485.4 L519.5,485.7 L520.5,486.0 L521.5,486.4 L522.5,486.6 L523.5,486.9 L524.5,487.1 L525.5,487.4 L526.5,487.5 L527.5,487.7 L528.5,487.9 L529.5,488.0 L530.5,488.1 L531.5,488.1 L532.5,488.2 L533.5,488.2 L534.5,488.3 L535.5,488.3 L536.5,488.3 L537.5,488.2 L538.5,488.2 L539.5,488.2 L540.5,488.2 L541.5,488.2 L542.5,488.1 L543.5,488.1 L544.5,488.1 L545.5,488.1 L546.5,488.0 L547.5,488.0 L548.5,488.0 L549.5,488.0 L550.5,488.0 L551.5,487.9 L552.5,487.9 L553.5,487.9 L554.5,487.9 L555.5,487.9 L556.5,487.9 L557.5,487.9 L558.5,487.9 L559.5,487.9 L560.5,487.9 L561.5,488.0 L562.5,488.0 L563.5,488.0 L564.5,488.0 L565.5,488.0 L566.5,488.0 L567.5,488.1 L568.5,488.1 L569.5,488.1 L570.5,488.1 L571.5,488.1 L572.5,488.1 L573.5,488.0 L574.5,488.0 L575.5,488.0 L576.5,487.9 L577.5,487.8 L578.5,487.8 L579.5,487.7 L580.5,487.7 L581.5,487.6 L582.5,487.6 L583.5,487.5 L584.5,487.5 L585.5,487.4 L586.5,487.4 L587.5,487.4 L588.5,487.4 L589.5,487.3 L590.5,487.3 L591.5,487.4 L592.5,487.4 L593.5,487.5 L594.5,487.6 L595.5,487.7 L596.5,487.8 L597.5,488.0 L598.5,488.2 L599.5,488.3 L600.5,488.5 L601.5,488.6 L602.5,488.8 L603.5,488.9 L604.5,489.0 L605.5,489.1 L606.5,489.2 L607.5,489.2 L608.5,489.3 L609.5,489.4 L610.5,489.5 L611.5,489.5 L612.5,489.6 L613.5,489.6 L614.5,489.7 L615.5,489.7 L616.5,489.7 L617.5,489.7 L618.5,489.8 L619.5,489.8 L620.5,489.8 L621.5,489.8 L622.5,489.8 L623.5,489.8 L624.5,489.8 L625.5,489.8 L626.5,489.9 L627.5,489.9 L628.5,489.9 L629.5,489.9 L630.5,489.9 L631.5,489.9 L632.5,489.9 L633.5,489.9 L634.5,489.9 L635.5,489.9 L636.5,489.9 L637.5,489.9 L638.5,489.9 L639.5,489.8 L640.5,489.8 L641.5,489.8 L642.5,489.8 L643.5,489.7 L644.5,489.7 L645.5,489.7 L646.5,489.6 L647.5,489.6 L648.5,489.6 L649.5,489.5 L650.5,489.5 L651.5,489.4 L652.5,489.4 L653.5,489.4 L654.5,489.3 L655.5,489.3 L656.5,489.2 L657.5,489.2 L658.5,489.1 L659.5,489.0 L660.5,488.9 L661.5,488.9 L662.5,488.8 L663.5,488.7 L664.5,488.7 L665.5,488.6 L666.5,488.6 L667.5,488.6 L668.5,488.5 L669.5,488.5 L670.5,488.6 L671.5,488.6 L672.5,488.6 L673.5,488.7 L674.5,488.7 L675.5,488.8 L676.5,488.9 L677.5,488.9 L678.5,489.0 L679.5,489.1 L680.5,489.1 L681.5,489.2 L682.5,489.3 L683.5,489.3 L684.5,489.4 L685.5,489.4 L686.5,489.5 L687.5,489.5 L688.5,489.6 L689.5,489.6 L690.5,489.7 L691.5,489.7 L692.5,489.8 L693.5,489.8 L694.5,489.8 L695.5,489.8 L696.5,489.9 L697.5,489.9 L698.5,489.9 L699.5,489.9 L700.5,489.9 L701.5,489.9 L702.5,489.9 L703.5,489.9 L704.5,489.9 L705.5,489.9 L706.5,489.9 L707.5,489.9 L708.5,489.9 L709.5,489.9 L710.5,489.9 L711.5,489.9 L712.5,489.9 L713.5,489.9 L714.5,489.9 L715.5,489.9 L716.5,489.9 L717.5,489.9 L718.5,489.9 L719.5,489.9 L720.5,489.9 L721.5,489.9 L722.5,489.9 L723.5,489.9 L724.5,489.9 L725.5,489.9 L726.5,489.9 L727.5,489.9 L728.5,489.9 L729.5,489.9 L730.5,489.9 L731.5,489.9 L732.5,489.9 L733.5,489.9 L734.5,489.9 L735.5,489.9 L736.5,489.9 L737.5,489.9 L738.5,489.9 L739.5,489.9 L740.5,489.9 L741.5,489.9 L742.5,489.9 L743.5,489.9 L744.5,489.9 L745.5,489.9 L746.5,489.9 L747.5,489.9 L748.5,489.9 L749.5,489.9 L750.5,489.9 L751.5,489.9 L752.5,489.9 L753.5,489.9 L754.5,489.9 L755.5,489.9 L756.5,489.9 L757.5,489.9 L758.5,489.9 L759.5,489.9 L760.5,489.9 L761.5,489.9 L762.5,489.9 L763.5,489.9 L764.5,489.9 L765.5,489.9 L766.5,489.9 L767.5,489.9 L768.5,489.9 L769.5,489.9 L770.5,489.9 L771.5,489.9 L772.5,489.9 L773.5,489.9 L774.5,489.9 L775.5,489.9 L776.5,489.9 L777.5,489.9 L778.5,489.9 L779.5,489.9 L780.5,489.9 L781.5,489.9 L782.5,489.9 L783.5,489.9 L784.5,489.9 L785.5,489.9 L786.5,489.9 L787.5,489.9 L788.5,489.9 L789.5,489.9 L790.5,489.9 L791.5,489.9 L792.5,489.9 L793.5,489.9 L794.5,489.9 L795.5,489.9 L796.5,489.9 L797.5,489.9 L798.5,489.9 L799.5,489.9 L800.5,489.9 L801.5,489.9 L802.5,489.9 L803.5,489.9 L804.5,489.9 L805.5,489.9 L806.5,489.9 L807.5,489.9 L808.5,489.9 L809.5,489.9 L810.5,489.9 L811.5,489.9 L812.5,489.9 L813.5,489.9 L814.5,489.9 L815.5,489.9 L816.5,489.9 L817.5,489.9 L818.0,489.9" fill="none" stroke="#f4a582" stroke-width="3.3" stroke-linejoin="round" stroke-linecap="round"/>
<path d="M327.5,649.3 L328.5,648.7 L329.5,648.0 L330.5,647.4 L331.5,646.7 L332.5,646.0 L333.5,645.3 L334.5,644.6 L335.5,643.8 L336.5,643.0 L337.5,642.1 L338.5,641.3 L339.5,640.4 L340.5,639.5 L341.5,638.6 L342.5,637.6 L343.5,636.7 L344.5,635.8 L345.5,634.8 L346.5,633.9 L347.5,632.9 L348.5,632.0 L349.5,631.0 L350.5,630.1 L351.5,629.1 L352.5,628.2 L353.5,627.3 L354.5,626.3 L355.5,625.4 L356.5,624.5 L357.5,623.6 L358.5,622.6 L359.5,621.7 L360.5,620.8 L361.5,619.9 L362.5,619.0 L363.5,618.2 L364.5,617.3 L365.5,616.4 L366.5,615.5 L367.5,614.7 L368.5,613.9 L369.5,613.0 L370.5,612.2 L371.5,611.4 L372.5,610.6 L373.5,609.8 L374.5,609.1 L375.5,608.3 L376.5,607.6 L377.5,606.9 L378.5,606.2 L379.5,605.5 L380.5,604.9 L381.5,604.2 L382.5,603.6 L383.5,603.0 L384.5,602.4 L385.5,601.8 L386.5,601.2 L387.5,600.7 L388.5,600.1 L389.5,599.6 L390.5,599.2 L391.5,598.7 L392.5,598.3 L393.5,597.9 L394.5,597.5 L395.5,597.2 L396.5,597.0 L397.5,596.7 L398.5,596.5 L399.5,596.4 L400.5,596.3 L401.5,596.2 L402.5,596.1 L403.5,596.1 L404.5,596.1 L405.5,596.2 L406.5,596.3 L407.5,596.4 L408.5,596.5 L409.5,596.7 L410.5,596.9 L411.5,597.2 L412.5,597.5 L413.5,597.8 L414.5,598.2 L415.5,598.5 L416.5,598.9 L417.5,599.3 L418.5,599.6 L419.5,600.0 L420.5,600.4 L421.5,600.8 L422.5,601.2 L423.5,601.6 L424.5,602.0 L425.5,602.4 L426.5,602.8 L427.5,603.1 L428.5,603.5 L429.5,603.9 L430.5,604.2 L431.5,604.5 L432.5,604.9 L433.5,605.2 L434.5,605.5 L435.5,605.8 L436.5,606.2 L437.5,606.5 L438.5,606.8 L439.5,607.1 L440.5,607.4 L441.5,607.7 L442.5,608.0 L443.5,608.3 L444.5,608.6 L445.5,608.9 L446.5,609.2 L447.5,609.5 L448.5,609.8 L449.5,610.1 L450.5,610.5 L451.5,610.8 L452.5,611.1 L453.5,611.5 L454.5,611.8 L455.5,612.2 L456.5,612.5 L457.5,612.9 L458.5,613.3 L459.5,613.7 L460.5,614.1 L461.5,614.5 L462.5,614.9 L463.5,615.4 L464.5,615.8 L465.5,616.3 L466.5,616.7 L467.5,617.2 L468.5,617.7 L469.5,618.2 L470.5,618.7 L471.5,619.2 L472.5,619.8 L473.5,620.3 L474.5,620.9 L475.5,621.5 L476.5,622.1 L477.5,622.7 L478.5,623.3 L479.5,623.9 L480.5,624.5 L481.5,625.1 L482.5,625.7 L483.5,626.3 L484.5,626.9 L485.5,627.4 L486.5,628.0 L487.5,628.6 L488.5,629.1 L489.5,629.7 L490.5,630.3 L491.5,630.8 L492.5,631.3 L493.5,631.8 L494.5,632.3 L495.5,632.8 L496.5,633.3 L497.5,633.8 L498.5,634.3 L499.5,634.7 L500.5,635.2 L501.5,635.6 L502.5,636.0 L503.5,636.4 L504.5,636.8 L505.5,637.2 L506.5,637.6 L507.5,638.0 L508.5,638.4 L509.5,638.7 L510.5,639.1 L511.5,639.4 L512.5,639.8 L513.5,640.1 L514.5,640.5 L515.5,640.8 L516.5,641.1 L517.5,641.4 L518.5,641.8 L519.5,642.1 L520.5,642.4 L521.5,642.7 L522.5,643.0 L523.5,643.3 L524.5,643.6 L525.5,643.9 L526.5,644.1 L527.5,644.4 L528.5,644.7 L529.5,645.0 L530.5,645.3 L531.5,645.5 L532.5,645.8 L533.5,646.0 L534.5,646.3 L535.5,646.5 L536.5,646.7 L537.5,647.0 L538.5,647.2 L539.5,647.4 L540.5,647.6 L541.5,647.8 L542.5,648.0 L543.5,648.2 L544.5,648.4 L545.5,648.6 L546.5,648.8 L547.5,649.0 L548.5,649.1 L549.5,649.3 L550.5,649.4 L551.5,649.6 L552.5,649.7 L553.5,649.8 L554.5,650.0 L555.5,650.1 L556.5,650.2 L557.5,650.4 L558.5,650.5 L559.5,650.6 L560.5,650.7 L561.5,650.8 L562.5,650.9 L563.5,651.0 L564.5,651.1 L565.5,651.2 L566.5,651.2 L567.5,651.3 L568.5,651.4 L569.5,651.5 L570.5,651.6 L571.5,651.7 L572.5,651.8 L573.5,651.9 L574.5,652.0 L575.5,652.1 L576.5,652.2 L577.5,652.3 L578.5,652.4 L579.5,652.5 L580.5,652.6 L581.5,652.7 L582.5,652.8 L583.5,652.9 L584.5,653.0 L585.5,653.1 L586.5,653.2 L587.5,653.3 L588.5,653.4 L589.5,653.5 L590.5,653.6 L591.5,653.7 L592.5,653.8 L593.5,653.9 L594.5,654.0 L595.5,654.1 L596.5,654.2 L597.5,654.3 L598.5,654.4 L599.5,654.5 L600.5,654.5 L601.5,654.6 L602.5,654.7 L603.5,654.7 L604.5,654.8 L605.5,654.8 L606.5,654.9 L607.5,654.9 L608.5,654.9 L609.5,654.9 L610.5,654.9 L611.5,654.9 L612.5,654.8 L613.5,654.8 L614.5,654.8 L615.5,654.8 L616.5,654.8 L617.5,654.7 L618.5,654.7 L619.5,654.7 L620.5,654.7 L621.5,654.6 L622.5,654.6 L623.5,654.5 L624.5,654.5 L625.5,654.5 L626.5,654.4 L627.5,654.4 L628.5,654.4 L629.5,654.3 L630.5,654.3 L631.5,654.3 L632.5,654.3 L633.5,654.3 L634.5,654.4 L635.5,654.4 L636.5,654.4 L637.5,654.5 L638.5,654.5 L639.5,654.6 L640.5,654.6 L641.5,654.6 L642.5,654.7 L643.5,654.7 L644.5,654.7 L645.5,654.8 L646.5,654.8 L647.5,654.8 L648.5,654.9 L649.5,654.9 L650.5,654.9 L651.5,655.0 L652.5,655.0 L653.5,655.0 L654.5,655.0 L655.5,655.1 L656.5,655.1 L657.5,655.1 L658.5,655.1 L659.5,655.1 L660.5,655.1 L661.5,655.1 L662.5,655.0 L663.5,655.0 L664.5,655.0 L665.5,654.9 L666.5,654.9 L667.5,654.9 L668.5,654.8 L669.5,654.8 L670.5,654.7 L671.5,654.7 L672.5,654.6 L673.5,654.6 L674.5,654.5 L675.5,654.5 L676.5,654.4 L677.5,654.4 L678.5,654.3 L679.5,654.2 L680.5,654.2 L681.5,654.1 L682.5,654.0 L683.5,654.0 L684.5,653.9 L685.5,653.9 L686.5,653.8 L687.5,653.8 L688.5,653.8 L689.5,653.7 L690.5,653.7 L691.5,653.7 L692.5,653.7 L693.5,653.7 L694.5,653.7 L695.5,653.7 L696.5,653.7 L697.5,653.7 L698.5,653.7 L699.5,653.7 L700.5,653.7 L701.5,653.7 L702.5,653.7 L703.5,653.7 L704.5,653.7 L705.5,653.8 L706.5,653.8 L707.5,653.8 L708.5,653.9 L709.5,653.9 L710.5,654.0 L711.5,654.0 L712.5,654.1 L713.5,654.2 L714.5,654.2 L715.5,654.3 L716.5,654.4 L717.5,654.4 L718.5,654.5 L719.5,654.5 L720.5,654.6 L721.5,654.7 L722.5,654.7 L723.5,654.8 L724.5,654.9 L725.5,654.9 L726.5,655.0 L727.5,655.1 L728.5,655.1 L729.5,655.2 L730.5,655.3 L731.5,655.3 L732.5,655.4 L733.5,655.4 L734.5,655.5 L735.5,655.5 L736.5,655.6 L737.5,655.6 L738.5,655.7 L739.5,655.7 L740.5,655.8 L741.5,655.8 L742.5,655.9 L743.5,655.9 L744.5,655.9 L745.5,656.0 L746.5,656.0 L747.5,656.1 L748.5,656.1 L749.5,656.1 L750.5,656.2 L751.5,656.2 L752.5,656.2 L753.5,656.2 L754.5,656.3 L755.5,656.3 L756.5,656.3 L757.5,656.3 L758.5,656.3 L759.5,656.3 L760.5,656.3 L761.5,656.3 L762.5,656.3 L763.5,656.3 L764.5,656.3 L765.5,656.3 L766.5,656.3 L767.5,656.3 L768.5,656.3 L769.5,656.3 L770.5,656.3 L771.5,656.3 L772.5,656.3 L773.5,656.3 L774.5,656.3 L775.5,656.3 L776.5,656.3 L777.5,656.3 L778.5,656.3 L779.5,656.3 L780.5,656.3 L781.5,656.3 L782.5,656.3 L783.5,656.3 L784.5,656.3 L785.5,656.3 L786.5,656.3 L787.5,656.3 L788.5,656.3 L789.5,656.3 L790.5,656.3 L791.5,656.3 L792.5,656.3 L793.5,656.3 L794.5,656.3 L795.5,656.3 L796.5,656.3 L797.5,656.3 L798.5,656.3 L799.5,656.3 L800.5,656.3 L801.5,656.3 L802.5,656.3 L803.5,656.3 L804.5,656.3 L805.5,656.3 L806.5,656.3 L807.5,656.3 L808.5,656.3 L809.5,656.3 L810.5,656.3 L811.5,656.3 L812.5,656.3 L813.5,656.3 L814.5,656.3 L815.5,656.3 L816.5,656.3 L817.5,656.3 L818.0,656.3 L818.0,656.4 L327.5,656.4 Z" fill="#0571b0" fill-opacity="0.5" stroke="none"/>
<path d="M327.5,649.3 L328.5,648.7 L329.5,648.0 L330.5,647.4 L331.5,646.7 L332.5,646.0 L333.5,645.3 L334.5,644.6 L335.5,643.8 L336.5,643.0 L337.5,642.1 L338.5,641.3 L339.5,640.4 L340.5,639.5 L341.5,638.6 L342.5,637.6 L343.5,636.7 L344.5,635.8 L345.5,634.8 L346.5,633.9 L347.5,632.9 L348.5,632.0 L349.5,631.0 L350.5,630.1 L351.5,629.1 L352.5,628.2 L353.5,627.3 L354.5,626.3 L355.5,625.4 L356.5,624.5 L357.5,623.6 L358.5,622.6 L359.5,621.7 L360.5,620.8 L361.5,619.9 L362.5,619.0 L363.5,618.2 L364.5,617.3 L365.5,616.4 L366.5,615.5 L367.5,614.7 L368.5,613.9 L369.5,613.0 L370.5,612.2 L371.5,611.4 L372.5,610.6 L373.5,609.8 L374.5,609.1 L375.5,608.3 L376.5,607.6 L377.5,606.9 L378.5,606.2 L379.5,605.5 L380.5,604.9 L381.5,604.2 L382.5,603.6 L383.5,603.0 L384.5,602.4 L385.5,601.8 L386.5,601.2 L387.5,600.7 L388.5,600.1 L389.5,599.6 L390.5,599.2 L391.5,598.7 L392.5,598.3 L393.5,597.9 L394.5,597.5 L395.5,597.2 L396.5,597.0 L397.5,596.7 L398.5,596.5 L399.5,596.4 L400.5,596.3 L401.5,596.2 L402.5,596.1 L403.5,596.1 L404.5,596.1 L405.5,596.2 L406.5,596.3 L407.5,596.4 L408.5,596.5 L409.5,596.7 L410.5,596.9 L411.5,597.2 L412.5,597.5 L413.5,597.8 L414.5,598.2 L415.5,598.5 L416.5,598.9 L417.5,599.3 L418.5,599.6 L419.5,600.0 L420.5,600.4 L421.5,600.8 L422.5,601.2 L423.5,601.6 L424.5,602.0 L425.5,602.4 L426.5,602.8 L427.5,603.1 L428.5,603.5 L429.5,603.9 L430.5,604.2 L431.5,604.5 L432.5,604.9 L433.5,605.2 L434.5,605.5 L435.5,605.8 L436.5,606.2 L437.5,606.5 L438.5,606.8 L439.5,607.1 L440.5,607.4 L441.5,607.7 L442.5,608.0 L443.5,608.3 L444.5,608.6 L445.5,608.9 L446.5,609.2 L447.5,609.5 L448.5,609.8 L449.5,610.1 L450.5,610.5 L451.5,610.8 L452.5,611.1 L453.5,611.5 L454.5,611.8 L455.5,612.2 L456.5,612.5 L457.5,612.9 L458.5,613.3 L459.5,613.7 L460.5,614.1 L461.5,614.5 L462.5,614.9 L463.5,615.4 L464.5,615.8 L465.5,616.3 L466.5,616.7 L467.5,617.2 L468.5,617.7 L469.5,618.2 L470.5,618.7 L471.5,619.2 L472.5,619.8 L473.5,620.3 L474.5,620.9 L475.5,621.5 L476.5,622.1 L477.5,622.7 L478.5,623.3 L479.5,623.9 L480.5,624.5 L481.5,625.1 L482.5,625.7 L483.5,626.3 L484.5,626.9 L485.5,627.4 L486.5,628.0 L487.5,628.6 L488.5,629.1 L489.5,629.7 L490.5,630.3 L491.5,630.8 L492.5,631.3 L493.5,631.8 L494.5,632.3 L495.5,632.8 L496.5,633.3 L497.5,633.8 L498.5,634.3 L499.5,634.7 L500.5,635.2 L501.5,635.6 L502.5,636.0 L503.5,636.4 L504.5,636.8 L505.5,637.2 L506.5,637.6 L507.5,638.0 L508.5,638.4 L509.5,638.7 L510.5,639.1 L511.5,639.4 L512.5,639.8 L513.5,640.1 L514.5,640.5 L515.5,640.8 L516.5,641.1 L517.5,641.4 L518.5,641.8 L519.5,642.1 L520.5,642.4 L521.5,642.7 L522.5,643.0 L523.5,643.3 L524.5,643.6 L525.5,643.9 L526.5,644.1 L527.5,644.4 L528.5,644.7 L529.5,645.0 L530.5,645.3 L531.5,645.5 L532.5,645.8 L533.5,646.0 L534.5,646.3 L535.5,646.5 L536.5,646.7 L537.5,647.0 L538.5,647.2 L539.5,647.4 L540.5,647.6 L541.5,647.8 L542.5,648.0 L543.5,648.2 L544.5,648.4 L545.5,648.6 L546.5,648.8 L547.5,649.0 L548.5,649.1 L549.5,649.3 L550.5,649.4 L551.5,649.6 L552.5,649.7 L553.5,649.8 L554.5,650.0 L555.5,650.1 L556.5,650.2 L557.5,650.4 L558.5,650.5 L559.5,650.6 L560.5,650.7 L561.5,650.8 L562.5,650.9 L563.5,651.0 L564.5,651.1 L565.5,651.2 L566.5,651.2 L567.5,651.3 L568.5,651.4 L569.5,651.5 L570.5,651.6 L571.5,651.7 L572.5,651.8 L573.5,651.9 L574.5,652.0 L575.5,652.1 L576.5,652.2 L577.5,652.3 L578.5,652.4 L579.5,652.5 L580.5,652.6 L581.5,652.7 L582.5,652.8 L583.5,652.9 L584.5,653.0 L585.5,653.1 L586.5,653.2 L587.5,653.3 L588.5,653.4 L589.5,653.5 L590.5,653.6 L591.5,653.7 L592.5,653.8 L593.5,653.9 L594.5,654.0 L595.5,654.1 L596.5,654.2 L597.5,654.3 L598.5,654.4 L599.5,654.5 L600.5,654.5 L601.5,654.6 L602.5,654.7 L603.5,654.7 L604.5,654.8 L605.5,654.8 L606.5,654.9 L607.5,654.9 L608.5,654.9 L609.5,654.9 L610.5,654.9 L611.5,654.9 L612.5,654.8 L613.5,654.8 L614.5,654.8 L615.5,654.8 L616.5,654.8 L617.5,654.7 L618.5,654.7 L619.5,654.7 L620.5,654.7 L621.5,654.6 L622.5,654.6 L623.5,654.5 L624.5,654.5 L625.5,654.5 L626.5,654.4 L627.5,654.4 L628.5,654.4 L629.5,654.3 L630.5,654.3 L631.5,654.3 L632.5,654.3 L633.5,654.3 L634.5,654.4 L635.5,654.4 L636.5,654.4 L637.5,654.5 L638.5,654.5 L639.5,654.6 L640.5,654.6 L641.5,654.6 L642.5,654.7 L643.5,654.7 L644.5,654.7 L645.5,654.8 L646.5,654.8 L647.5,654.8 L648.5,654.9 L649.5,654.9 L650.5,654.9 L651.5,655.0 L652.5,655.0 L653.5,655.0 L654.5,655.0 L655.5,655.1 L656.5,655.1 L657.5,655.1 L658.5,655.1 L659.5,655.1 L660.5,655.1 L661.5,655.1 L662.5,655.0 L663.5,655.0 L664.5,655.0 L665.5,654.9 L666.5,654.9 L667.5,654.9 L668.5,654.8 L669.5,654.8 L670.5,654.7 L671.5,654.7 L672.5,654.6 L673.5,654.6 L674.5,654.5 L675.5,654.5 L676.5,654.4 L677.5,654.4 L678.5,654.3 L679.5,654.2 L680.5,654.2 L681.5,654.1 L682.5,654.0 L683.5,654.0 L684.5,653.9 L685.5,653.9 L686.5,653.8 L687.5,653.8 L688.5,653.8 L689.5,653.7 L690.5,653.7 L691.5,653.7 L692.5,653.7 L693.5,653.7 L694.5,653.7 L695.5,653.7 L696.5,653.7 L697.5,653.7 L698.5,653.7 L699.5,653.7 L700.5,653.7 L701.5,653.7 L702.5,653.7 L703.5,653.7 L704.5,653.7 L705.5,653.8 L706.5,653.8 L707.5,653.8 L708.5,653.9 L709.5,653.9 L710.5,654.0 L711.5,654.0 L712.5,654.1 L713.5,654.2 L714.5,654.2 L715.5,654.3 L716.5,654.4 L717.5,654.4 L718.5,654.5 L719.5,654.5 L720.5,654.6 L721.5,654.7 L722.5,654.7 L723.5,654.8 L724.5,654.9 L725.5,654.9 L726.5,655.0 L727.5,655.1 L728.5,655.1 L729.5,655.2 L730.5,655.3 L731.5,655.3 L732.5,655.4 L733.5,655.4 L734.5,655.5 L735.5,655.5 L736.5,655.6 L737.5,655.6 L738.5,655.7 L739.5,655.7 L740.5,655.8 L741.5,655.8 L742.5,655.9 L743.5,655.9 L744.5,655.9 L745.5,656.0 L746.5,656.0 L747.5,656.1 L748.5,656.1 L749.5,656.1 L750.5,656.2 L751.5,656.2 L752.5,656.2 L753.5,656.2 L754.5,656.3 L755.5,656.3 L756.5,656.3 L757.5,656.3 L758.5,656.3 L759.5,656.3 L760.5,656.3 L761.5,656.3 L762.5,656.3 L763.5,656.3 L764.5,656.3 L765.5,656.3 L766.5,656.3 L767.5,656.3 L768.5,656.3 L769.5,656.3 L770.5,656.3 L771.5,656.3 L772.5,656.3 L773.5,656.3 L774.5,656.3 L775.5,656.3 L776.5,656.3 L777.5,656.3 L778.5,656.3 L779.5,656.3 L780.5,656.3 L781.5,656.3 L782.5,656.3 L783.5,656.3 L784.5,656.3 L785.5,656.3 L786.5,656.3 L787.5,656.3 L788.5,656.3 L789.5,656.3 L790.5,656.3 L791.5,656.3 L792.5,656.3 L793.5,656.3 L794.5,656.3 L795.5,656.3 L796.5,656.3 L797.5,656.3 L798.5,656.3 L799.5,656.3 L800.5,656.3 L801.5,656.3 L802.5,656.3 L803.5,656.3 L804.5,656.3 L805.5,656.3 L806.5,656.3 L807.5,656.3 L808.5,656.3 L809.5,656.3 L810.5,656.3 L811.5,656.3 L812.5,656.3 L813.5,656.3 L814.5,656.3 L815.5,656.3 L816.5,656.3 L817.5,656.3 L818.0,656.3" fill="none" stroke="#0571b0" stroke-width="3.3" stroke-linejoin="round" stroke-linecap="round"/>
<path d="M327.5,818.0 L328.5,817.5 L329.5,817.0 L330.5,816.6 L331.5,816.1 L332.5,815.5 L333.5,815.0 L334.5,814.4 L335.5,813.9 L336.5,813.3 L337.5,812.6 L338.5,812.0 L339.5,811.3 L340.5,810.7 L341.5,810.0 L342.5,809.3 L343.5,808.6 L344.5,807.8 L345.5,807.0 L346.5,806.2 L347.5,805.3 L348.5,804.3 L349.5,803.3 L350.5,802.2 L351.5,801.1 L352.5,800.0 L353.5,798.8 L354.5,797.6 L355.5,796.3 L356.5,795.0 L357.5,793.5 L358.5,792.0 L359.5,790.4 L360.5,788.8 L361.5,787.0 L362.5,785.2 L363.5,783.3 L364.5,781.3 L365.5,779.3 L366.5,777.3 L367.5,775.3 L368.5,773.4 L369.5,771.5 L370.5,769.6 L371.5,767.7 L372.5,765.9 L373.5,764.0 L374.5,762.1 L375.5,760.2 L376.5,758.4 L377.5,756.6 L378.5,754.8 L379.5,753.1 L380.5,751.5 L381.5,750.0 L382.5,748.5 L383.5,747.1 L384.5,745.7 L385.5,744.5 L386.5,743.3 L387.5,742.2 L388.5,741.2 L389.5,740.2 L390.5,739.4 L391.5,738.6 L392.5,738.0 L393.5,737.5 L394.5,737.1 L395.5,736.9 L396.5,736.7 L397.5,736.7 L398.5,736.7 L399.5,736.9 L400.5,737.2 L401.5,737.5 L402.5,738.0 L403.5,738.6 L404.5,739.4 L405.5,740.2 L406.5,741.1 L407.5,742.0 L408.5,743.0 L409.5,744.1 L410.5,745.1 L411.5,746.2 L412.5,747.2 L413.5,748.2 L414.5,749.3 L415.5,750.3 L416.5,751.2 L417.5,752.2 L418.5,753.2 L419.5,754.1 L420.5,755.0 L421.5,755.9 L422.5,756.7 L423.5,757.6 L424.5,758.4 L425.5,759.2 L426.5,760.0 L427.5,760.8 L428.5,761.5 L429.5,762.3 L430.5,763.0 L431.5,763.8 L432.5,764.5 L433.5,765.3 L434.5,766.0 L435.5,766.7 L436.5,767.5 L437.5,768.2 L438.5,768.9 L439.5,769.7 L440.5,770.4 L441.5,771.2 L442.5,771.9 L443.5,772.7 L444.5,773.5 L445.5,774.3 L446.5,775.1 L447.5,776.0 L448.5,776.9 L449.5,777.8 L450.5,778.7 L451.5,779.6 L452.5,780.6 L453.5,781.6 L454.5,782.6 L455.5,783.6 L456.5,784.7 L457.5,785.8 L458.5,786.8 L459.5,787.9 L460.5,789.0 L461.5,790.0 L462.5,791.1 L463.5,792.1 L464.5,793.2 L465.5,794.2 L466.5,795.1 L467.5,796.0 L468.5,796.9 L469.5,797.8 L470.5,798.6 L471.5,799.4 L472.5,800.1 L473.5,800.8 L474.5,801.5 L475.5,802.2 L476.5,802.8 L477.5,803.4 L478.5,803.9 L479.5,804.5 L480.5,805.0 L481.5,805.5 L482.5,806.0 L483.5,806.5 L484.5,807.0 L485.5,807.5 L486.5,808.0 L487.5,808.5 L488.5,809.0 L489.5,809.5 L490.5,810.0 L491.5,810.4 L492.5,810.9 L493.5,811.3 L494.5,811.7 L495.5,812.1 L496.5,812.4 L497.5,812.8 L498.5,813.1 L499.5,813.3 L500.5,813.6 L501.5,813.8 L502.5,814.0 L503.5,814.2 L504.5,814.4 L505.5,814.6 L506.5,814.7 L507.5,814.8 L508.5,815.0 L509.5,815.1 L510.5,815.2 L511.5,815.3 L512.5,815.4 L513.5,815.6 L514.5,815.7 L515.5,815.8 L516.5,816.0 L517.5,816.2 L518.5,816.4 L519.5,816.6 L520.5,816.9 L521.5,817.1 L522.5,817.4 L523.5,817.7 L524.5,817.9 L525.5,818.2 L526.5,818.5 L527.5,818.7 L528.5,818.9 L529.5,819.2 L530.5,819.3 L531.5,819.5 L532.5,819.6 L533.5,819.8 L534.5,819.9 L535.5,820.0 L536.5,820.0 L537.5,820.1 L538.5,820.1 L539.5,820.1 L540.5,820.1 L541.5,820.1 L542.5,820.1 L543.5,820.0 L544.5,820.0 L545.5,819.9 L546.5,819.8 L547.5,819.7 L548.5,819.6 L549.5,819.6 L550.5,819.5 L551.5,819.4 L552.5,819.4 L553.5,819.3 L554.5,819.2 L555.5,819.2 L556.5,819.1 L557.5,819.0 L558.5,819.0 L559.5,818.9 L560.5,818.9 L561.5,818.9 L562.5,818.8 L563.5,818.8 L564.5,818.8 L565.5,818.8 L566.5,818.9 L567.5,818.9 L568.5,818.9 L569.5,819.0 L570.5,819.0 L571.5,819.1 L572.5,819.2 L573.5,819.2 L574.5,819.3 L575.5,819.4 L576.5,819.5 L577.5,819.7 L578.5,819.8 L579.5,820.0 L580.5,820.1 L581.5,820.3 L582.5,820.4 L583.5,820.6 L584.5,820.7 L585.5,820.9 L586.5,821.0 L587.5,821.1 L588.5,821.3 L589.5,821.4 L590.5,821.5 L591.5,821.6 L592.5,821.7 L593.5,821.8 L594.5,821.8 L595.5,821.9 L596.5,821.9 L597.5,822.0 L598.5,822.0 L599.5,822.0 L600.5,822.0 L601.5,822.1 L602.5,822.1 L603.5,822.1 L604.5,822.1 L605.5,822.1 L606.5,822.0 L607.5,822.0 L608.5,821.9 L609.5,821.8 L610.5,821.7 L611.5,821.5 L612.5,821.4 L613.5,821.3 L614.5,821.1 L615.5,820.9 L616.5,820.8 L617.5,820.6 L618.5,820.4 L619.5,820.2 L620.5,820.0 L621.5,819.7 L622.5,819.5 L623.5,819.3 L624.5,819.1 L625.5,819.0 L626.5,818.8 L627.5,818.6 L628.5,818.5 L629.5,818.3 L630.5,818.2 L631.5,818.1 L632.5,818.0 L633.5,817.9 L634.5,817.9 L635.5,817.8 L636.5,817.8 L637.5,817.8 L638.5,817.8 L639.5,817.8 L640.5,817.8 L641.5,817.8 L642.5,817.8 L643.5,817.9 L644.5,817.9 L645.5,818.0 L646.5,818.1 L647.5,818.2 L648.5,818.3 L649.5,818.4 L650.5,818.6 L651.5,818.8 L652.5,818.9 L653.5,819.1 L654.5,819.3 L655.5,819.5 L656.5,819.7 L657.5,819.9 L658.5,820.1 L659.5,820.3 L660.5,820.5 L661.5,820.7 L662.5,820.9 L663.5,821.0 L664.5,821.2 L665.5,821.3 L666.5,821.5 L667.5,821.6 L668.5,821.7 L669.5,821.8 L670.5,821.9 L671.5,822.0 L672.5,822.1 L673.5,822.2 L674.5,822.3 L675.5,822.3 L676.5,822.4 L677.5,822.4 L678.5,822.4 L679.5,822.5 L680.5,822.5 L681.5,822.5 L682.5,822.6 L683.5,822.6 L684.5,822.6 L685.5,822.6 L686.5,822.7 L687.5,822.7 L688.5,822.7 L689.5,822.7 L690.5,822.7 L691.5,822.7 L692.5,822.7 L693.5,822.7 L694.5,822.7 L695.5,822.7 L696.5,822.7 L697.5,822.7 L698.5,822.7 L699.5,822.7 L700.5,822.7 L701.5,822.7 L702.5,822.7 L703.5,822.7 L704.5,822.7 L705.5,822.7 L706.5,822.7 L707.5,822.7 L708.5,822.7 L709.5,822.7 L710.5,822.7 L711.5,822.7 L712.5,822.7 L713.5,822.7 L714.5,822.7 L715.5,822.7 L716.5,822.7 L717.5,822.7 L718.5,822.7 L719.5,822.7 L720.5,822.7 L721.5,822.7 L722.5,822.7 L723.5,822.7 L724.5,822.7 L725.5,822.7 L726.5,822.7 L727.5,822.7 L728.5,822.7 L729.5,822.7 L730.5,822.7 L731.5,822.7 L732.5,822.7 L733.5,822.7 L734.5,822.7 L735.5,822.7 L736.5,822.7 L737.5,822.7 L738.5,822.7 L739.5,822.7 L740.5,822.7 L741.5,822.7 L742.5,822.7 L743.5,822.7 L744.5,822.7 L745.5,822.7 L746.5,822.7 L747.5,822.7 L748.5,822.7 L749.5,822.7 L750.5,822.7 L751.5,822.7 L752.5,822.7 L753.5,822.7 L754.5,822.7 L755.5,822.7 L756.5,822.7 L757.5,822.7 L758.5,822.7 L759.5,822.7 L760.5,822.7 L761.5,822.7 L762.5,822.7 L763.5,822.7 L764.5,822.7 L765.5,822.7 L766.5,822.7 L767.5,822.7 L768.5,822.7 L769.5,822.7 L770.5,822.7 L771.5,822.7 L772.5,822.7 L773.5,822.7 L774.5,822.7 L775.5,822.7 L776.5,822.7 L777.5,822.7 L778.5,822.7 L779.5,822.7 L780.5,822.7 L781.5,822.7 L782.5,822.7 L783.5,822.7 L784.5,822.7 L785.5,822.7 L786.5,822.7 L787.5,822.7 L788.5,822.7 L789.5,822.7 L790.5,822.7 L791.5,822.7 L792.5,822.7 L793.5,822.7 L794.5,822.7 L795.5,822.7 L796.5,822.7 L797.5,822.7 L798.5,822.7 L799.5,822.7 L800.5,822.7 L801.5,822.7 L802.5,822.7 L803.5,822.7 L804.5,822.7 L805.5,822.7 L806.5,822.7 L807.5,822.7 L808.5,822.7 L809.5,822.7 L810.5,822.7 L811.5,822.7 L812.5,822.7 L813.5,822.7 L814.5,822.7 L815.5,822.7 L816.5,822.7 L817.5,822.7 L818.0,822.7 L818.0,822.8 L327.5,822.8 Z" fill="#92c5de" fill-opacity="0.5" stroke="none"/>
<path d="M327.5,818.0 L328.5,817.5 L329.5,817.0 L330.5,816.6 L331.5,816.1 L332.5,815.5 L333.5,815.0 L334.5,814.4 L335.5,813.9 L336.5,813.3 L337.5,812.6 L338.5,812.0 L339.5,811.3 L340.5,810.7 L341.5,810.0 L342.5,809.3 L343.5,808.6 L344.5,807.8 L345.5,807.0 L346.5,806.2 L347.5,805.3 L348.5,804.3 L349.5,803.3 L350.5,802.2 L351.5,801.1 L352.5,800.0 L353.5,798.8 L354.5,797.6 L355.5,796.3 L356.5,795.0 L357.5,793.5 L358.5,792.0 L359.5,790.4 L360.5,788.8 L361.5,787.0 L362.5,785.2 L363.5,783.3 L364.5,781.3 L365.5,779.3 L366.5,777.3 L367.5,775.3 L368.5,773.4 L369.5,771.5 L370.5,769.6 L371.5,767.7 L372.5,765.9 L373.5,764.0 L374.5,762.1 L375.5,760.2 L376.5,758.4 L377.5,756.6 L378.5,754.8 L379.5,753.1 L380.5,751.5 L381.5,750.0 L382.5,748.5 L383.5,747.1 L384.5,745.7 L385.5,744.5 L386.5,743.3 L387.5,742.2 L388.5,741.2 L389.5,740.2 L390.5,739.4 L391.5,738.6 L392.5,738.0 L393.5,737.5 L394.5,737.1 L395.5,736.9 L396.5,736.7 L397.5,736.7 L398.5,736.7 L399.5,736.9 L400.5,737.2 L401.5,737.5 L402.5,738.0 L403.5,738.6 L404.5,739.4 L405.5,740.2 L406.5,741.1 L407.5,742.0 L408.5,743.0 L409.5,744.1 L410.5,745.1 L411.5,746.2 L412.5,747.2 L413.5,748.2 L414.5,749.3 L415.5,750.3 L416.5,751.2 L417.5,752.2 L418.5,753.2 L419.5,754.1 L420.5,755.0 L421.5,755.9 L422.5,756.7 L423.5,757.6 L424.5,758.4 L425.5,759.2 L426.5,760.0 L427.5,760.8 L428.5,761.5 L429.5,762.3 L430.5,763.0 L431.5,763.8 L432.5,764.5 L433.5,765.3 L434.5,766.0 L435.5,766.7 L436.5,767.5 L437.5,768.2 L438.5,768.9 L439.5,769.7 L440.5,770.4 L441.5,771.2 L442.5,771.9 L443.5,772.7 L444.5,773.5 L445.5,774.3 L446.5,775.1 L447.5,776.0 L448.5,776.9 L449.5,777.8 L450.5,778.7 L451.5,779.6 L452.5,780.6 L453.5,781.6 L454.5,782.6 L455.5,783.6 L456.5,784.7 L457.5,785.8 L458.5,786.8 L459.5,787.9 L460.5,789.0 L461.5,790.0 L462.5,791.1 L463.5,792.1 L464.5,793.2 L465.5,794.2 L466.5,795.1 L467.5,796.0 L468.5,796.9 L469.5,797.8 L470.5,798.6 L471.5,799.4 L472.5,800.1 L473.5,800.8 L474.5,801.5 L475.5,802.2 L476.5,802.8 L477.5,803.4 L478.5,803.9 L479.5,804.5 L480.5,805.0 L481.5,805.5 L482.5,806.0 L483.5,806.5 L484.5,807.0 L485.5,807.5 L486.5,808.0 L487.5,808.5 L488.5,809.0 L489.5,809.5 L490.5,810.0 L491.5,810.4 L492.5,810.9 L493.5,811.3 L494.5,811.7 L495.5,812.1 L496.5,812.4 L497.5,812.8 L498.5,813.1 L499.5,813.3 L500.5,813.6 L501.5,813.8 L502.5,814.0 L503.5,814.2 L504.5,814.4 L505.5,814.6 L506.5,814.7 L507.5,814.8 L508.5,815.0 L509.5,815.1 L510.5,815.2 L511.5,815.3 L512.5,815.4 L513.5,815.6 L514.5,815.7 L515.5,815.8 L516.5,816.0 L517.5,816.2 L518.5,816.4 L519.5,816.6 L520.5,816.9 L521.5,817.1 L522.5,817.4 L523.5,817.7 L524.5,817.9 L525.5,818.2 L526.5,818.5 L527.5,818.7 L528.5,818.9 L529.5,819.2 L530.5,819.3 L531.5,819.5 L532.5,819.6 L533.5,819.8 L534.5,819.9 L535.5,820.0 L536.5,820.0 L537.5,820.1 L538.5,820.1 L539.5,820.1 L540.5,820.1 L541.5,820.1 L542.5,820.1 L543.5,820.0 L544.5,820.0 L545.5,819.9 L546.5,819.8 L547.5,819.7 L548.5,819.6 L549.5,819.6 L550.5,819.5 L551.5,819.4 L552.5,819.4 L553.5,819.3 L554.5,819.2 L555.5,819.2 L556.5,819.1 L557.5,819.0 L558.5,819.0 L559.5,818.9 L560.5,818.9 L561.5,818.9 L562.5,818.8 L563.5,818.8 L564.5,818.8 L565.5,818.8 L566.5,818.9 L567.5,818.9 L568.5,818.9 L569.5,819.0 L570.5,819.0 L571.5,819.1 L572.5,819.2 L573.5,819.2 L574.5,819.3 L575.5,819.4 L576.5,819.5 L577.5,819.7 L578.5,819.8 L579.5,820.0 L580.5,820.1 L581.5,820.3 L582.5,820.4 L583.5,820.6 L584.5,820.7 L585.5,820.9 L586.5,821.0 L587.5,821.1 L588.5,821.3 L589.5,821.4 L590.5,821.5 L591.5,821.6 L592.5,821.7 L593.5,821.8 L594.5,821.8 L595.5,821.9 L596.5,821.9 L597.5,822.0 L598.5,822.0 L599.5,822.0 L600.5,822.0 L601.5,822.1 L602.5,822.1 L603.5,822.1 L604.5,822.1 L605.5,822.1 L606.5,822.0 L607.5,822.0 L608.5,821.9 L609.5,821.8 L610.5,821.7 L611.5,821.5 L612.5,821.4 L613.5,821.3 L614.5,821.1 L615.5,820.9 L616.5,820.8 L617.5,820.6 L618.5,820.4 L619.5,820.2 L620.5,820.0 L621.5,819.7 L622.5,819.5 L623.5,819.3 L624.5,819.1 L625.5,819.0 L626.5,818.8 L627.5,818.6 L628.5,818.5 L629.5,818.3 L630.5,818.2 L631.5,818.1 L632.5,818.0 L633.5,817.9 L634.5,817.9 L635.5,817.8 L636.5,817.8 L637.5,817.8 L638.5,817.8 L639.5,817.8 L640.5,817.8 L641.5,817.8 L642.5,817.8 L643.5,817.9 L644.5,817.9 L645.5,818.0 L646.5,818.1 L647.5,818.2 L648.5,818.3 L649.5,818.4 L650.5,818.6 L651.5,818.8 L652.5,818.9 L653.5,819.1 L654.5,819.3 L655.5,819.5 L656.5,819.7 L657.5,819.9 L658.5,820.1 L659.5,820.3 L660.5,820.5 L661.5,820.7 L662.5,820.9 L663.5,821.0 L664.5,821.2 L665.5,821.3 L666.5,821.5 L667.5,821.6 L668.5,821.7 L669.5,821.8 L670.5,821.9 L671.5,822.0 L672.5,822.1 L673.5,822.2 L674.5,822.3 L675.5,822.3 L676.5,822.4 L677.5,822.4 L678.5,822.4 L679.5,822.5 L680.5,822.5 L681.5,822.5 L682.5,822.6 L683.5,822.6 L684.5,822.6 L685.5,822.6 L686.5,822.7 L687.5,822.7 L688.5,822.7 L689.5,822.7 L690.5,822.7 L691.5,822.7 L692.5,822.7 L693.5,822.7 L694.5,822.7 L695.5,822.7 L696.5,822.7 L697.5,822.7 L698.5,822.7 L699.5,822.7 L700.5,822.7 L701.5,822.7 L702.5,822.7 L703.5,822.7 L704.5,822.7 L705.5,822.7 L706.5,822.7 L707.5,822.7 L708.5,822.7 L709.5,822.7 L710.5,822.7 L711.5,822.7 L712.5,822.7 L713.5,822.7 L714.5,822.7 L715.5,822.7 L716.5,822.7 L717.5,822.7 L718.5,822.7 L719.5,822.7 L720.5,822.7 L721.5,822.7 L722.5,822.7 L723.5,822.7 L724.5,822.7 L725.5,822.7 L726.5,822.7 L727.5,822.7 L728.5,822.7 L729.5,822.7 L730.5,822.7 L731.5,822.7 L732.5,822.7 L733.5,822.7 L734.5,822.7 L735.5,822.7 L736.5,822.7 L737.5,822.7 L738.5,822.7 L739.5,822.7 L740.5,822.7 L741.5,822.7 L742.5,822.7 L743.5,822.7 L744.5,822.7 L745.5,822.7 L746.5,822.7 L747.5,822.7 L748.5,822.7 L749.5,822.7 L750.5,822.7 L751.5,822.7 L752.5,822.7 L753.5,822.7 L754.5,822.7 L755.5,822.7 L756.5,822.7 L757.5,822.7 L758.5,822.7 L759.5,822.7 L760.5,822.7 L761.5,822.7 L762.5,822.7 L763.5,822.7 L764.5,822.7 L765.5,822.7 L766.5,822.7 L767.5,822.7 L768.5,822.7 L769.5,822.7 L770.5,822.7 L771.5,822.7 L772.5,822.7 L773.5,822.7 L774.5,822.7 L775.5,822.7 L776.5,822.7 L777.5,822.7 L778.5,822.7 L779.5,822.7 L780.5,822.7 L781.5,822.7 L782.5,822.7 L783.5,822.7 L784.5,822.7 L785.5,822.7 L786.5,822.7 L787.5,822.7 L788.5,822.7 L789.5,822.7 L790.5,822.7 L791.5,822.7 L792.5,822.7 L793.5,822.7 L794.5,822.7 L795.5,822.7 L796.5,822.7 L797.5,822.7 L798.5,822.7 L799.5,822.7 L800.5,822.7 L801.5,822.7 L802.5,822.7 L803.5,822.7 L804.5,822.7 L805.5,822.7 L806.5,822.7 L807.5,822.7 L808.5,822.7 L809.5,822.7 L810.5,822.7 L811.5,822.7 L812.5,822.7 L813.5,822.7 L814.5,822.7 L815.5,822.7 L816.5,822.7 L817.5,822.7 L818.0,822.7" fill="none" stroke="#92c5de" stroke-width="3.3" stroke-linejoin="round" stroke-linecap="round"/>
</g>
<path d="M495.1,44.79999999999998 V53.19999999999999 M503.5,44.79999999999998 V53.19999999999999 M495.1,48.999999999999986 H503.5" stroke="#404040" stroke-width="3.1" fill="none"/>
<path d="M420.1,211.20000000000005 V219.60000000000002 M428.65,211.20000000000005 V219.60000000000002 M420.1,215.40000000000003 H428.65" stroke="#ca0020" stroke-width="3.1" fill="none"/>
<path d="M418.5,377.6 V386.0 M427.2,377.6 V386.0 M418.5,381.8 H427.2" stroke="#f4a582" stroke-width="3.1" fill="none"/>
<path d="M430.6,543.9999999999999 V552.4 M439.5,543.9999999999999 V552.4 M430.6,548.1999999999999 H439.5" stroke="#0571b0" stroke-width="3.1" fill="none"/>
<path d="M418.9,710.3999999999999 V718.8 M427.5,710.3999999999999 V718.8 M418.9,714.5999999999999 H427.5" stroke="#92c5de" stroke-width="3.1" fill="none"/>
<text transform="translate(500.1,38.4) scale(0.968,1)" font-size="32.7" text-anchor="middle" fill="#000">$331k</text>
<text transform="translate(424.6,204.8) scale(0.968,1)" font-size="32.7" text-anchor="middle" fill="#000">$234k</text>
<text transform="translate(423.0,371.2) scale(0.968,1)" font-size="32.7" text-anchor="middle" fill="#000">$232k</text>
<text transform="translate(435.5,537.6) scale(0.968,1)" font-size="32.7" text-anchor="middle" fill="#000">$248k</text>
<text transform="translate(423.8,704.0) scale(0.968,1)" font-size="32.7" text-anchor="middle" fill="#000">$233k</text>
<line x1="382.0" x2="382.0" y1="839.1" y2="16.0" stroke="#000" stroke-opacity="0.5" stroke-width="5.9" stroke-dasharray="24.3 24.94"/>
<text transform="translate(200.2,166.6) scale(0.966,1)" font-size="26.8" text-anchor="end" fill="#4d4d4d">NO<tspan dy="3.2">−</tspan><tspan dy="-3.2">MODEL</tspan></text>
<text transform="translate(200.2,333.0) scale(0.966,1)" font-size="26.8" text-anchor="end" fill="#4d4d4d">BB<tspan dy="3.2">−</tspan><tspan dy="-3.2">8</tspan></text>
<text transform="translate(200.2,499.4) scale(0.966,1)" font-size="26.8" text-anchor="end" fill="#4d4d4d">BB<tspan dy="3.2">−</tspan><tspan dy="-3.2">2</tspan></text>
<text transform="translate(200.2,665.8) scale(0.966,1)" font-size="26.8" text-anchor="end" fill="#4d4d4d">CLEAR<tspan dy="3.2">−</tspan><tspan dy="-3.2">8</tspan></text>
<text transform="translate(200.2,832.2) scale(0.966,1)" font-size="26.8" text-anchor="end" fill="#4d4d4d">CLEAR<tspan dy="3.2">−</tspan><tspan dy="-3.2">2</tspan></text>
<text transform="translate(241.8,872.6) scale(0.958,1)" font-size="26.8" text-anchor="middle" fill="#4d4d4d">$0k</text>
<text transform="translate(397.6,872.6) scale(0.958,1)" font-size="26.8" text-anchor="middle" fill="#4d4d4d">$200k</text>
<text transform="translate(553.4,872.6) scale(0.958,1)" font-size="26.8" text-anchor="middle" fill="#4d4d4d">$400k</text>
<text transform="translate(709.2,872.6) scale(0.958,1)" font-size="26.8" text-anchor="middle" fill="#4d4d4d">$600k</text>
<text transform="translate(514.6,910.8) scale(0.958,1)" font-size="32.7" text-anchor="middle" fill="#000">Average prediction error</text>
<text transform="translate(39.2,427.6) rotate(-90) scale(0.989,1)" font-size="32.3" text-anchor="middle" fill="#000">Proportion of participants</text>
</svg></body></html>
